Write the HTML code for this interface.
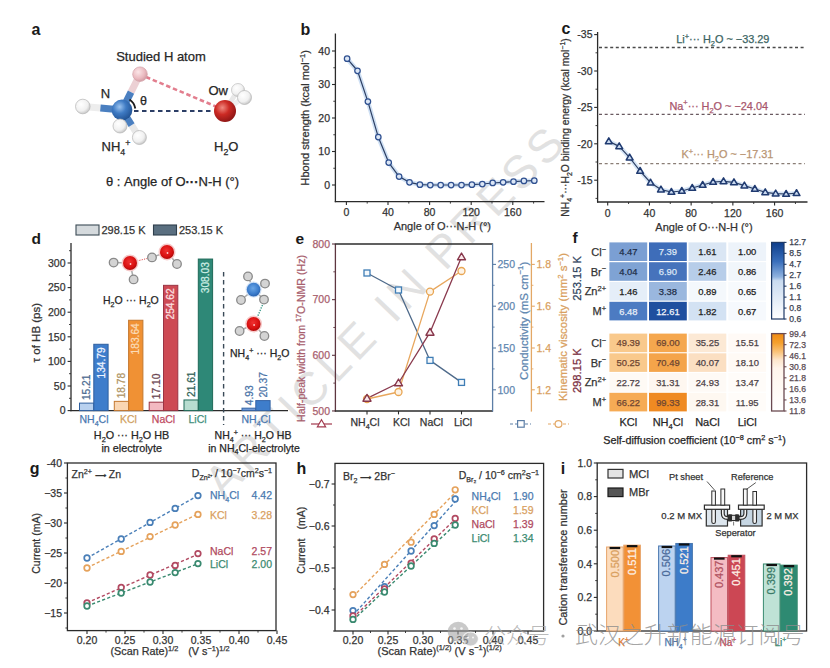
<!DOCTYPE html><html><head><meta charset="utf-8"><title>Figure</title><style>html,body{margin:0;padding:0;background:#fff;}body{width:830px;height:668px;overflow:hidden;}svg{display:block;}</style></head><body><svg width="830" height="668" viewBox="0 0 830 668" font-family='"Liberation Sans", Arial, sans-serif'>
<defs>
<radialGradient id="gB" cx="0.38" cy="0.35" r="0.7"><stop offset="0" stop-color="#9cc4f0"/><stop offset="0.45" stop-color="#3f7bc4"/><stop offset="1" stop-color="#1f4f8f"/></radialGradient>
<radialGradient id="gR" cx="0.38" cy="0.35" r="0.7"><stop offset="0" stop-color="#f08a80"/><stop offset="0.45" stop-color="#cc2a24"/><stop offset="1" stop-color="#8a1414"/></radialGradient>
<radialGradient id="gW" cx="0.38" cy="0.35" r="0.75"><stop offset="0" stop-color="#ffffff"/><stop offset="0.6" stop-color="#f0f0f0"/><stop offset="1" stop-color="#b8b8b8"/></radialGradient>
<radialGradient id="gP" cx="0.38" cy="0.35" r="0.75"><stop offset="0" stop-color="#fbe6e8"/><stop offset="0.6" stop-color="#eab9bf"/><stop offset="1" stop-color="#c8929a"/></radialGradient>
<radialGradient id="gRs" cx="0.45" cy="0.4" r="0.6"><stop offset="0" stop-color="#f03030"/><stop offset="0.7" stop-color="#d81010"/><stop offset="1" stop-color="#b00808"/></radialGradient>
<radialGradient id="gBs" cx="0.45" cy="0.4" r="0.6"><stop offset="0" stop-color="#6aa6e6"/><stop offset="0.7" stop-color="#3a7ccc"/><stop offset="1" stop-color="#2a64b0"/></radialGradient>
<linearGradient id="cbB" x1="0" y1="0" x2="0" y2="1"><stop offset="0" stop-color="#0d3d8a"/><stop offset="0.25" stop-color="#3a6fbb"/><stop offset="0.45" stop-color="#8fb2df"/><stop offset="0.5" stop-color="#c9dbf0"/><stop offset="1" stop-color="#ffffff"/></linearGradient>
<linearGradient id="cbO" x1="0" y1="0" x2="0" y2="1"><stop offset="0" stop-color="#f08a10"/><stop offset="0.12" stop-color="#f5a02e"/><stop offset="0.24" stop-color="#fac47c"/><stop offset="0.34" stop-color="#fde6cc"/><stop offset="0.45" stop-color="#fff5ec"/><stop offset="1" stop-color="#ffffff"/></linearGradient>
</defs>
<rect width="830" height="668" fill="#ffffff"/>
<text x="0" y="0" font-size="46" letter-spacing="4.8" fill="#c4c4c4" fill-opacity="0.5" transform="translate(224.3 500.5) rotate(-46)">ARTICLE IN PRESS</text>
<text x="31.5" y="35" font-size="16" text-anchor="start" fill="#1a1a1a" font-weight="bold" >a</text>
<text x="116.2" y="61.4" font-size="13" text-anchor="start" fill="#262626" stroke="#262626" stroke-width="0.25" >Studied H atom</text>
<line x1="146.00" y1="77.00" x2="216.00" y2="106.50" stroke="#e27e8e" stroke-width="2.6" stroke-dasharray="4.5 2.8"/>
<line x1="134.00" y1="111.00" x2="214.00" y2="111.00" stroke="#2c3e66" stroke-width="1.8" stroke-dasharray="4.5 3.5"/>
<line x1="131.0" y1="92.1" x2="140" y2="74.2" stroke="#ecd0d4" stroke-width="7"/>
<line x1="122" y1="110" x2="131.0" y2="92.1" stroke="#4a7fc0" stroke-width="7"/>
<line x1="100.4" y1="108.1" x2="82.8" y2="106.5" stroke="#ededed" stroke-width="7"/>
<line x1="122" y1="110" x2="100.4" y2="108.1" stroke="#4a7fc0" stroke-width="7"/>
<line x1="131.6" y1="125.1" x2="139.4" y2="137.5" stroke="#e8e8e8" stroke-width="7"/>
<line x1="122" y1="110" x2="131.6" y2="125.1" stroke="#4a7fc0" stroke-width="7"/>
<line x1="225.00" y1="111.00" x2="238.00" y2="90.00" stroke="#e8e8e8" stroke-width="5" />
<circle cx="238.00" cy="90.00" r="6.50" fill="url(#gW)" stroke="#bdbdbd" stroke-width="0.7" />
<circle cx="82.80" cy="106.50" r="7.30" fill="url(#gW)" stroke="#b5b5b5" stroke-width="0.7" />
<circle cx="140.00" cy="74.20" r="7.30" fill="url(#gP)" stroke="#d2a0a8" stroke-width="0.7" />
<circle cx="122.00" cy="110.00" r="10.40" fill="url(#gB)" stroke="none" stroke-width="1" />
<circle cx="120.00" cy="126.00" r="7.00" fill="url(#gW)" stroke="#b5b5b5" stroke-width="0.7" />
<circle cx="139.40" cy="137.50" r="7.00" fill="url(#gW)" stroke="#b5b5b5" stroke-width="0.7" />
<line x1="225.00" y1="111.00" x2="244.00" y2="97.00" stroke="#eeeeee" stroke-width="5" />
<circle cx="225.00" cy="111.00" r="11.00" fill="url(#gR)" stroke="none" stroke-width="1" />
<circle cx="244.50" cy="97.50" r="7.00" fill="url(#gW)" stroke="#b5b5b5" stroke-width="0.7" />
<path d="M129.5 99.5 A 13.5 13.5 0 0 1 135.3 108.5" fill="none" stroke="#1a1a1a" stroke-width="1.8"/>
<text x="100.8" y="97.6" font-size="13" text-anchor="start" fill="#262626" stroke="#262626" stroke-width="0.25" >N</text>
<text x="140" y="104.5" font-size="12.5" text-anchor="start" fill="#262626" stroke="#262626" stroke-width="0.25" >θ</text>
<text x="208.5" y="94.8" font-size="13" text-anchor="start" fill="#262626" stroke="#262626" stroke-width="0.25" >Ow</text>
<text x="101.5" y="151" font-size="13" text-anchor="start" fill="#262626" stroke="#262626" stroke-width="0.25" ><tspan>NH</tspan><tspan dy="3.64" font-size="8.84">4</tspan><tspan dy="-8.58" font-size="8.84">+</tspan></text>
<text x="214" y="151" font-size="13" text-anchor="start" fill="#262626" stroke="#262626" stroke-width="0.25" ><tspan>H</tspan><tspan dy="3.64" font-size="8.84">2</tspan><tspan dy="-3.64">O</tspan></text>
<text x="106" y="185.5" font-size="13" text-anchor="start" fill="#262626" stroke="#262626" stroke-width="0.25" >θ : Angle of O<tspan font-weight="bold">···</tspan>N-H (°)</text>
<text x="300.5" y="34.5" font-size="16" text-anchor="start" fill="#1a1a1a" font-weight="bold" >b</text>
<line x1="335.40" y1="33.50" x2="335.40" y2="202.20" stroke="#2b2b2b" stroke-width="1.3" />
<line x1="334.80" y1="201.60" x2="544.50" y2="201.60" stroke="#2b2b2b" stroke-width="1.3" />
<line x1="332.00" y1="185.00" x2="335.40" y2="185.00" stroke="#2b2b2b" stroke-width="1.1" />
<text x="330" y="188.7" font-size="10.5" text-anchor="end" fill="#333333" stroke="#333333" stroke-width="0.25" >0</text>
<line x1="332.00" y1="151.50" x2="335.40" y2="151.50" stroke="#2b2b2b" stroke-width="1.1" />
<text x="330" y="155.2" font-size="10.5" text-anchor="end" fill="#333333" stroke="#333333" stroke-width="0.25" >10</text>
<line x1="332.00" y1="118.00" x2="335.40" y2="118.00" stroke="#2b2b2b" stroke-width="1.1" />
<text x="330" y="121.7" font-size="10.5" text-anchor="end" fill="#333333" stroke="#333333" stroke-width="0.25" >20</text>
<line x1="332.00" y1="84.50" x2="335.40" y2="84.50" stroke="#2b2b2b" stroke-width="1.1" />
<text x="330" y="88.2" font-size="10.5" text-anchor="end" fill="#333333" stroke="#333333" stroke-width="0.25" >30</text>
<line x1="332.00" y1="51.00" x2="335.40" y2="51.00" stroke="#2b2b2b" stroke-width="1.1" />
<text x="330" y="54.7" font-size="10.5" text-anchor="end" fill="#333333" stroke="#333333" stroke-width="0.25" >40</text>
<line x1="333.30" y1="168.25" x2="335.40" y2="168.25" stroke="#2b2b2b" stroke-width="0.9" />
<line x1="333.30" y1="134.75" x2="335.40" y2="134.75" stroke="#2b2b2b" stroke-width="0.9" />
<line x1="333.30" y1="101.25" x2="335.40" y2="101.25" stroke="#2b2b2b" stroke-width="0.9" />
<line x1="333.30" y1="67.75" x2="335.40" y2="67.75" stroke="#2b2b2b" stroke-width="0.9" />
<line x1="346.40" y1="201.60" x2="346.40" y2="205.00" stroke="#2b2b2b" stroke-width="1.1" />
<text x="346.4" y="216" font-size="10.5" text-anchor="middle" fill="#333333" stroke="#333333" stroke-width="0.25" >0</text>
<line x1="388.00" y1="201.60" x2="388.00" y2="205.00" stroke="#2b2b2b" stroke-width="1.1" />
<text x="388.0" y="216" font-size="10.5" text-anchor="middle" fill="#333333" stroke="#333333" stroke-width="0.25" >40</text>
<line x1="429.60" y1="201.60" x2="429.60" y2="205.00" stroke="#2b2b2b" stroke-width="1.1" />
<text x="429.59999999999997" y="216" font-size="10.5" text-anchor="middle" fill="#333333" stroke="#333333" stroke-width="0.25" >80</text>
<line x1="471.20" y1="201.60" x2="471.20" y2="205.00" stroke="#2b2b2b" stroke-width="1.1" />
<text x="471.2" y="216" font-size="10.5" text-anchor="middle" fill="#333333" stroke="#333333" stroke-width="0.25" >120</text>
<line x1="512.80" y1="201.60" x2="512.80" y2="205.00" stroke="#2b2b2b" stroke-width="1.1" />
<text x="512.8" y="216" font-size="10.5" text-anchor="middle" fill="#333333" stroke="#333333" stroke-width="0.25" >160</text>
<line x1="367.20" y1="201.60" x2="367.20" y2="203.60" stroke="#2b2b2b" stroke-width="0.9" />
<line x1="408.80" y1="201.60" x2="408.80" y2="203.60" stroke="#2b2b2b" stroke-width="0.9" />
<line x1="450.40" y1="201.60" x2="450.40" y2="203.60" stroke="#2b2b2b" stroke-width="0.9" />
<line x1="492.00" y1="201.60" x2="492.00" y2="203.60" stroke="#2b2b2b" stroke-width="0.9" />
<line x1="533.60" y1="201.60" x2="533.60" y2="203.60" stroke="#2b2b2b" stroke-width="0.9" />
<text x="442.3" y="229.7" font-size="11" text-anchor="middle" fill="#333333" stroke="#333333" stroke-width="0.25" >Angle of O···N-H (°)</text>
<text x="309.3" y="117.8" font-size="11.1" text-anchor="middle" fill="#333333" stroke="#333333" stroke-width="0.25" transform="rotate(-90 309.3 117.8)" ><tspan>Hbond strength (kcal mol</tspan><tspan dy="-4.22" font-size="7.55">−1</tspan><tspan dy="4.22">)</tspan></text>
<polyline points="347.10,58.70 357.50,70.76 367.90,101.59 378.30,137.09 388.70,162.56 399.10,176.62 409.50,182.32 419.90,184.66 430.30,185.00 440.70,185.00 451.10,185.00 461.50,185.00 471.90,184.66 482.30,184.00 492.70,182.99 503.10,182.32 513.50,181.65 523.90,180.98 534.30,180.65" fill="none" stroke="#cfe0f4" stroke-width="4.5" stroke-linejoin="round" />
<polyline points="347.10,58.70 357.50,70.76 367.90,101.59 378.30,137.09 388.70,162.56 399.10,176.62 409.50,182.32 419.90,184.66 430.30,185.00 440.70,185.00 451.10,185.00 461.50,185.00 471.90,184.66 482.30,184.00 492.70,182.99 503.10,182.32 513.50,181.65 523.90,180.98 534.30,180.65" fill="none" stroke="#2d3f63" stroke-width="1.2" stroke-linejoin="round" />
<circle cx="347.10" cy="58.70" r="2.75" fill="#dce7f6" stroke="#2f5090" stroke-width="1.25" />
<circle cx="357.50" cy="70.76" r="2.75" fill="#dce7f6" stroke="#2f5090" stroke-width="1.25" />
<circle cx="367.90" cy="101.59" r="2.75" fill="#dce7f6" stroke="#2f5090" stroke-width="1.25" />
<circle cx="378.30" cy="137.09" r="2.75" fill="#dce7f6" stroke="#2f5090" stroke-width="1.25" />
<circle cx="388.70" cy="162.56" r="2.75" fill="#dce7f6" stroke="#2f5090" stroke-width="1.25" />
<circle cx="399.10" cy="176.62" r="2.75" fill="#dce7f6" stroke="#2f5090" stroke-width="1.25" />
<circle cx="409.50" cy="182.32" r="2.75" fill="#dce7f6" stroke="#2f5090" stroke-width="1.25" />
<circle cx="419.90" cy="184.66" r="2.75" fill="#dce7f6" stroke="#2f5090" stroke-width="1.25" />
<circle cx="430.30" cy="185.00" r="2.75" fill="#dce7f6" stroke="#2f5090" stroke-width="1.25" />
<circle cx="440.70" cy="185.00" r="2.75" fill="#dce7f6" stroke="#2f5090" stroke-width="1.25" />
<circle cx="451.10" cy="185.00" r="2.75" fill="#dce7f6" stroke="#2f5090" stroke-width="1.25" />
<circle cx="461.50" cy="185.00" r="2.75" fill="#dce7f6" stroke="#2f5090" stroke-width="1.25" />
<circle cx="471.90" cy="184.66" r="2.75" fill="#dce7f6" stroke="#2f5090" stroke-width="1.25" />
<circle cx="482.30" cy="184.00" r="2.75" fill="#dce7f6" stroke="#2f5090" stroke-width="1.25" />
<circle cx="492.70" cy="182.99" r="2.75" fill="#dce7f6" stroke="#2f5090" stroke-width="1.25" />
<circle cx="503.10" cy="182.32" r="2.75" fill="#dce7f6" stroke="#2f5090" stroke-width="1.25" />
<circle cx="513.50" cy="181.65" r="2.75" fill="#dce7f6" stroke="#2f5090" stroke-width="1.25" />
<circle cx="523.90" cy="180.98" r="2.75" fill="#dce7f6" stroke="#2f5090" stroke-width="1.25" />
<circle cx="534.30" cy="180.65" r="2.75" fill="#dce7f6" stroke="#2f5090" stroke-width="1.25" />
<text x="561.5" y="34.3" font-size="16" text-anchor="start" fill="#1a1a1a" font-weight="bold" >c</text>
<line x1="597.60" y1="32.00" x2="597.60" y2="202.60" stroke="#2b2b2b" stroke-width="1.3" />
<line x1="597.00" y1="202.00" x2="807.50" y2="202.00" stroke="#2b2b2b" stroke-width="1.3" />
<line x1="594.20" y1="34.60" x2="597.60" y2="34.60" stroke="#2b2b2b" stroke-width="1.1" />
<text x="592.5" y="38.300000000000004" font-size="10.5" text-anchor="end" fill="#333333" stroke="#333333" stroke-width="0.25" >-35</text>
<line x1="594.20" y1="71.00" x2="597.60" y2="71.00" stroke="#2b2b2b" stroke-width="1.1" />
<text x="592.5" y="74.7" font-size="10.5" text-anchor="end" fill="#333333" stroke="#333333" stroke-width="0.25" >-30</text>
<line x1="594.20" y1="107.40" x2="597.60" y2="107.40" stroke="#2b2b2b" stroke-width="1.1" />
<text x="592.5" y="111.10000000000001" font-size="10.5" text-anchor="end" fill="#333333" stroke="#333333" stroke-width="0.25" >-25</text>
<line x1="594.20" y1="143.80" x2="597.60" y2="143.80" stroke="#2b2b2b" stroke-width="1.1" />
<text x="592.5" y="147.5" font-size="10.5" text-anchor="end" fill="#333333" stroke="#333333" stroke-width="0.25" >-20</text>
<line x1="594.20" y1="180.20" x2="597.60" y2="180.20" stroke="#2b2b2b" stroke-width="1.1" />
<text x="592.5" y="183.89999999999998" font-size="10.5" text-anchor="end" fill="#333333" stroke="#333333" stroke-width="0.25" >-15</text>
<line x1="595.50" y1="52.80" x2="597.60" y2="52.80" stroke="#2b2b2b" stroke-width="0.9" />
<line x1="595.50" y1="89.20" x2="597.60" y2="89.20" stroke="#2b2b2b" stroke-width="0.9" />
<line x1="595.50" y1="125.60" x2="597.60" y2="125.60" stroke="#2b2b2b" stroke-width="0.9" />
<line x1="595.50" y1="162.00" x2="597.60" y2="162.00" stroke="#2b2b2b" stroke-width="0.9" />
<line x1="595.50" y1="198.40" x2="597.60" y2="198.40" stroke="#2b2b2b" stroke-width="0.9" />
<line x1="607.70" y1="202.00" x2="607.70" y2="205.40" stroke="#2b2b2b" stroke-width="1.1" />
<text x="607.7" y="216.5" font-size="10.5" text-anchor="middle" fill="#333333" stroke="#333333" stroke-width="0.25" >0</text>
<line x1="649.42" y1="202.00" x2="649.42" y2="205.40" stroke="#2b2b2b" stroke-width="1.1" />
<text x="649.4200000000001" y="216.5" font-size="10.5" text-anchor="middle" fill="#333333" stroke="#333333" stroke-width="0.25" >40</text>
<line x1="691.14" y1="202.00" x2="691.14" y2="205.40" stroke="#2b2b2b" stroke-width="1.1" />
<text x="691.1400000000001" y="216.5" font-size="10.5" text-anchor="middle" fill="#333333" stroke="#333333" stroke-width="0.25" >80</text>
<line x1="732.86" y1="202.00" x2="732.86" y2="205.40" stroke="#2b2b2b" stroke-width="1.1" />
<text x="732.86" y="216.5" font-size="10.5" text-anchor="middle" fill="#333333" stroke="#333333" stroke-width="0.25" >120</text>
<line x1="774.58" y1="202.00" x2="774.58" y2="205.40" stroke="#2b2b2b" stroke-width="1.1" />
<text x="774.58" y="216.5" font-size="10.5" text-anchor="middle" fill="#333333" stroke="#333333" stroke-width="0.25" >160</text>
<line x1="628.56" y1="202.00" x2="628.56" y2="204.00" stroke="#2b2b2b" stroke-width="0.9" />
<line x1="670.28" y1="202.00" x2="670.28" y2="204.00" stroke="#2b2b2b" stroke-width="0.9" />
<line x1="712.00" y1="202.00" x2="712.00" y2="204.00" stroke="#2b2b2b" stroke-width="0.9" />
<line x1="753.72" y1="202.00" x2="753.72" y2="204.00" stroke="#2b2b2b" stroke-width="0.9" />
<line x1="795.44" y1="202.00" x2="795.44" y2="204.00" stroke="#2b2b2b" stroke-width="0.9" />
<text x="704" y="230.5" font-size="11" text-anchor="middle" fill="#333333" stroke="#333333" stroke-width="0.25" >Angle of O···N-H (°)</text>
<line x1="599.00" y1="47.40" x2="805.00" y2="47.40" stroke="#4a4a4a" stroke-width="1.5" stroke-dasharray="3 2.6"/>
<line x1="599.00" y1="114.40" x2="805.00" y2="114.40" stroke="#6a5a60" stroke-width="1.4" stroke-dasharray="3 2.7"/>
<line x1="599.00" y1="163.60" x2="805.00" y2="163.60" stroke="#8a7e76" stroke-width="1.4" stroke-dasharray="3 2.7"/>
<text x="676.2" y="43" font-size="10.9" text-anchor="start" fill="#3b6462" stroke="#3b6462" stroke-width="0.25" ><tspan>Li</tspan><tspan dy="-4.14" font-size="7.41">+</tspan><tspan dy="4.14">··· H</tspan><tspan dy="3.05" font-size="7.41">2</tspan><tspan dy="-3.05">O ~ −33.29</tspan></text>
<text x="669.4" y="109.5" font-size="10.9" text-anchor="start" fill="#a8566c" stroke="#a8566c" stroke-width="0.25" ><tspan>Na</tspan><tspan dy="-4.14" font-size="7.41">+</tspan><tspan dy="4.14">··· H</tspan><tspan dy="3.05" font-size="7.41">2</tspan><tspan dy="-3.05">O ~ −24.04</tspan></text>
<text x="681.4" y="158.2" font-size="10.9" text-anchor="start" fill="#b89472" stroke="#b89472" stroke-width="0.25" ><tspan>K</tspan><tspan dy="-4.14" font-size="7.41">+</tspan><tspan dy="4.14">··· H</tspan><tspan dy="3.05" font-size="7.41">2</tspan><tspan dy="-3.05">O ~ −17.31</tspan></text>
<text x="569.4" y="127.5" font-size="10.3" text-anchor="middle" fill="#333333" stroke="#333333" stroke-width="0.25" transform="rotate(-90 569.4 127.5)" ><tspan>NH</tspan><tspan dy="2.88" font-size="7.00">4</tspan><tspan dy="-6.80" font-size="7.00">+</tspan><tspan dy="3.91">···H</tspan><tspan dy="2.88" font-size="7.00">2</tspan><tspan dy="-2.88">O binding energy (kcal mol</tspan><tspan dy="-3.91" font-size="7.00">−1</tspan><tspan dy="3.91">)</tspan></text>
<polyline points="608.80,141.40 619.23,146.40 629.66,157.60 640.09,171.00 650.52,182.70 660.95,189.60 671.38,192.00 681.81,191.00 692.24,188.00 702.67,185.00 713.10,182.00 723.53,181.40 733.96,182.40 744.39,185.60 754.82,189.00 765.25,192.40 775.68,193.60 786.11,194.00 796.54,193.20" fill="none" stroke="#d6e5f6" stroke-width="4.5" stroke-linejoin="round" />
<polyline points="608.80,141.40 619.23,146.40 629.66,157.60 640.09,171.00 650.52,182.70 660.95,189.60 671.38,192.00 681.81,191.00 692.24,188.00 702.67,185.00 713.10,182.00 723.53,181.40 733.96,182.40 744.39,185.60 754.82,189.00 765.25,192.40 775.68,193.60 786.11,194.00 796.54,193.20" fill="none" stroke="#2d3f63" stroke-width="1.2" stroke-linejoin="round" />
<path d="M608.80 137.90 L612.20 143.72 L605.40 143.72 Z" fill="#c9d9ef" stroke="#1f3a70" stroke-width="1.5" stroke-linejoin="round"/>
<path d="M619.23 142.90 L622.63 148.72 L615.83 148.72 Z" fill="#c9d9ef" stroke="#1f3a70" stroke-width="1.5" stroke-linejoin="round"/>
<path d="M629.66 154.10 L633.06 159.92 L626.26 159.92 Z" fill="#c9d9ef" stroke="#1f3a70" stroke-width="1.5" stroke-linejoin="round"/>
<path d="M640.09 167.50 L643.49 173.32 L636.69 173.32 Z" fill="#c9d9ef" stroke="#1f3a70" stroke-width="1.5" stroke-linejoin="round"/>
<path d="M650.52 179.20 L653.92 185.02 L647.12 185.02 Z" fill="#c9d9ef" stroke="#1f3a70" stroke-width="1.5" stroke-linejoin="round"/>
<path d="M660.95 186.10 L664.35 191.92 L657.55 191.92 Z" fill="#c9d9ef" stroke="#1f3a70" stroke-width="1.5" stroke-linejoin="round"/>
<path d="M671.38 188.50 L674.78 194.32 L667.98 194.32 Z" fill="#c9d9ef" stroke="#1f3a70" stroke-width="1.5" stroke-linejoin="round"/>
<path d="M681.81 187.50 L685.21 193.32 L678.41 193.32 Z" fill="#c9d9ef" stroke="#1f3a70" stroke-width="1.5" stroke-linejoin="round"/>
<path d="M692.24 184.50 L695.64 190.32 L688.84 190.32 Z" fill="#c9d9ef" stroke="#1f3a70" stroke-width="1.5" stroke-linejoin="round"/>
<path d="M702.67 181.50 L706.07 187.32 L699.27 187.32 Z" fill="#c9d9ef" stroke="#1f3a70" stroke-width="1.5" stroke-linejoin="round"/>
<path d="M713.10 178.50 L716.50 184.32 L709.70 184.32 Z" fill="#c9d9ef" stroke="#1f3a70" stroke-width="1.5" stroke-linejoin="round"/>
<path d="M723.53 177.90 L726.93 183.72 L720.13 183.72 Z" fill="#c9d9ef" stroke="#1f3a70" stroke-width="1.5" stroke-linejoin="round"/>
<path d="M733.96 178.90 L737.36 184.72 L730.56 184.72 Z" fill="#c9d9ef" stroke="#1f3a70" stroke-width="1.5" stroke-linejoin="round"/>
<path d="M744.39 182.10 L747.79 187.92 L740.99 187.92 Z" fill="#c9d9ef" stroke="#1f3a70" stroke-width="1.5" stroke-linejoin="round"/>
<path d="M754.82 185.50 L758.22 191.32 L751.42 191.32 Z" fill="#c9d9ef" stroke="#1f3a70" stroke-width="1.5" stroke-linejoin="round"/>
<path d="M765.25 188.90 L768.65 194.72 L761.85 194.72 Z" fill="#c9d9ef" stroke="#1f3a70" stroke-width="1.5" stroke-linejoin="round"/>
<path d="M775.68 190.10 L779.08 195.92 L772.28 195.92 Z" fill="#c9d9ef" stroke="#1f3a70" stroke-width="1.5" stroke-linejoin="round"/>
<path d="M786.11 190.50 L789.51 196.32 L782.71 196.32 Z" fill="#c9d9ef" stroke="#1f3a70" stroke-width="1.5" stroke-linejoin="round"/>
<path d="M796.54 189.70 L799.94 195.52 L793.14 195.52 Z" fill="#c9d9ef" stroke="#1f3a70" stroke-width="1.5" stroke-linejoin="round"/>
<text x="31.5" y="244" font-size="15.5" text-anchor="start" fill="#1a1a1a" font-weight="bold" >d</text>
<rect x="76.00" y="225.00" width="23.00" height="10.00" fill="#d5dadd" stroke="#3b4b55" stroke-width="1.1" />
<text x="101.5" y="234.2" font-size="11" text-anchor="start" fill="#333333" stroke="#333333" stroke-width="0.25" >298.15 K</text>
<rect x="153.50" y="225.00" width="23.00" height="10.00" fill="#5a6f80" stroke="#2f3f4c" stroke-width="1.1" />
<text x="179" y="234.2" font-size="11" text-anchor="start" fill="#333333" stroke="#333333" stroke-width="0.25" >253.15 K</text>
<line x1="71.00" y1="243.00" x2="71.00" y2="411.20" stroke="#2b2b2b" stroke-width="1.3" />
<line x1="70.40" y1="410.60" x2="288.00" y2="410.60" stroke="#2b2b2b" stroke-width="1.3" />
<line x1="67.60" y1="410.60" x2="71.00" y2="410.60" stroke="#2b2b2b" stroke-width="1.1" />
<text x="65.5" y="414.3" font-size="10.5" text-anchor="end" fill="#333333" stroke="#333333" stroke-width="0.25" >0</text>
<line x1="67.60" y1="386.00" x2="71.00" y2="386.00" stroke="#2b2b2b" stroke-width="1.1" />
<text x="65.5" y="389.7" font-size="10.5" text-anchor="end" fill="#333333" stroke="#333333" stroke-width="0.25" >50</text>
<line x1="67.60" y1="361.40" x2="71.00" y2="361.40" stroke="#2b2b2b" stroke-width="1.1" />
<text x="65.5" y="365.1" font-size="10.5" text-anchor="end" fill="#333333" stroke="#333333" stroke-width="0.25" >100</text>
<line x1="67.60" y1="336.80" x2="71.00" y2="336.80" stroke="#2b2b2b" stroke-width="1.1" />
<text x="65.5" y="340.5" font-size="10.5" text-anchor="end" fill="#333333" stroke="#333333" stroke-width="0.25" >150</text>
<line x1="67.60" y1="312.20" x2="71.00" y2="312.20" stroke="#2b2b2b" stroke-width="1.1" />
<text x="65.5" y="315.90000000000003" font-size="10.5" text-anchor="end" fill="#333333" stroke="#333333" stroke-width="0.25" >200</text>
<line x1="67.60" y1="287.60" x2="71.00" y2="287.60" stroke="#2b2b2b" stroke-width="1.1" />
<text x="65.5" y="291.3" font-size="10.5" text-anchor="end" fill="#333333" stroke="#333333" stroke-width="0.25" >250</text>
<line x1="67.60" y1="263.00" x2="71.00" y2="263.00" stroke="#2b2b2b" stroke-width="1.1" />
<text x="65.5" y="266.7" font-size="10.5" text-anchor="end" fill="#333333" stroke="#333333" stroke-width="0.25" >300</text>
<line x1="69.00" y1="398.30" x2="71.00" y2="398.30" stroke="#2b2b2b" stroke-width="0.9" />
<line x1="69.00" y1="373.70" x2="71.00" y2="373.70" stroke="#2b2b2b" stroke-width="0.9" />
<line x1="69.00" y1="349.10" x2="71.00" y2="349.10" stroke="#2b2b2b" stroke-width="0.9" />
<line x1="69.00" y1="324.50" x2="71.00" y2="324.50" stroke="#2b2b2b" stroke-width="0.9" />
<line x1="69.00" y1="299.90" x2="71.00" y2="299.90" stroke="#2b2b2b" stroke-width="0.9" />
<line x1="69.00" y1="275.30" x2="71.00" y2="275.30" stroke="#2b2b2b" stroke-width="0.9" />
<line x1="69.00" y1="250.70" x2="71.00" y2="250.70" stroke="#2b2b2b" stroke-width="0.9" />
<text x="40.5" y="332.7" font-size="11.5" text-anchor="middle" fill="#333333" stroke="#333333" stroke-width="0.25" transform="rotate(-90 40.5 332.7)" >τ of HB (ps)</text>
<rect x="79.50" y="403.12" width="14.30" height="7.48" fill="#b9d1ef" stroke="#2f5f9f" stroke-width="1.0" />
<rect x="93.80" y="344.28" width="14.30" height="66.32" fill="#3e7dcb" stroke="#2f5f9f" stroke-width="1.0" />
<text x="90.25" y="400.11668000000003" font-size="10.2" text-anchor="start" fill="#4a6a90" stroke="#4a6a90" stroke-width="0.25" transform="rotate(-90 90.25 400.11668000000003)" >15.21</text>
<text x="104.55" y="347.28332" font-size="10.2" text-anchor="end" fill="#eef4ff" stroke="#eef4ff" stroke-width="0.25" transform="rotate(-90 104.55 347.28332)" >134.79</text>
<rect x="114.30" y="401.36" width="14.30" height="9.24" fill="#fad6b2" stroke="#c47830" stroke-width="1.0" />
<rect x="128.60" y="320.25" width="14.30" height="90.35" fill="#f09134" stroke="#c47830" stroke-width="1.0" />
<text x="125.05" y="398.36024000000003" font-size="10.2" text-anchor="start" fill="#b09464" stroke="#b09464" stroke-width="0.25" transform="rotate(-90 125.05 398.36024000000003)" >18.78</text>
<text x="139.35" y="323.24912000000006" font-size="10.2" text-anchor="end" fill="#fbdcb8" stroke="#fbdcb8" stroke-width="0.25" transform="rotate(-90 139.35 323.24912000000006)" >183.64</text>
<rect x="149.20" y="402.19" width="14.30" height="8.41" fill="#f3b9c1" stroke="#9a3444" stroke-width="1.0" />
<rect x="163.50" y="285.33" width="14.30" height="125.27" fill="#cd4a54" stroke="#9a3444" stroke-width="1.0" />
<text x="159.95" y="399.1868" font-size="10.2" text-anchor="start" fill="#6a4450" stroke="#6a4450" stroke-width="0.25" transform="rotate(-90 159.95 399.1868)" >17.10</text>
<text x="174.25" y="288.32696000000004" font-size="10.2" text-anchor="end" fill="#fbe0e0" stroke="#fbe0e0" stroke-width="0.25" transform="rotate(-90 174.25 288.32696000000004)" >254.62</text>
<rect x="184.00" y="399.97" width="14.30" height="10.63" fill="#b7ddd0" stroke="#1f6a58" stroke-width="1.0" />
<rect x="198.30" y="259.05" width="14.30" height="151.55" fill="#2e8877" stroke="#1f6a58" stroke-width="1.0" />
<text x="194.75" y="396.96788000000004" font-size="10.2" text-anchor="start" fill="#2f5f56" stroke="#2f5f56" stroke-width="0.25" transform="rotate(-90 194.75 396.96788000000004)" >21.61</text>
<text x="209.05" y="262.04924000000005" font-size="10.2" text-anchor="end" fill="#cdeee4" stroke="#cdeee4" stroke-width="0.25" transform="rotate(-90 209.05 262.04924000000005)" >308.03</text>
<rect x="242.00" y="408.17" width="13.80" height="2.43" fill="#6f98d6" stroke="#3564a6" stroke-width="1.0" />
<rect x="255.80" y="400.58" width="14.30" height="10.02" fill="#3e7dcb" stroke="#3564a6" stroke-width="1.0" />
<text x="252.55" y="405.17444" font-size="10.2" text-anchor="start" fill="#4b74a8" stroke="#4b74a8" stroke-width="0.25" transform="rotate(-90 252.55 405.17444)" >4.93</text>
<text x="266.65" y="397.57796" font-size="10.2" text-anchor="start" fill="#4b74a8" stroke="#4b74a8" stroke-width="0.25" transform="rotate(-90 266.65 397.57796)" >20.37</text>
<line x1="223.60" y1="272.00" x2="223.60" y2="425.00" stroke="#3a4a58" stroke-width="1.4" stroke-dasharray="4.5 3.5"/>
<text x="94" y="423" font-size="10.5" text-anchor="middle" fill="#4a78b0" stroke="#4a78b0" stroke-width="0.25" ><tspan>NH</tspan><tspan dy="2.94" font-size="7.14">4</tspan><tspan dy="-2.94">Cl</tspan></text>
<text x="128.5" y="423" font-size="10.5" text-anchor="middle" fill="#d0a060" stroke="#d0a060" stroke-width="0.25" >KCl</text>
<text x="163.5" y="423" font-size="10.5" text-anchor="middle" fill="#c04a62" stroke="#c04a62" stroke-width="0.25" >NaCl</text>
<text x="197.5" y="423" font-size="10.5" text-anchor="middle" fill="#3f8f7c" stroke="#3f8f7c" stroke-width="0.25" >LiCl</text>
<text x="256" y="423" font-size="10.5" text-anchor="middle" fill="#4a78b0" stroke="#4a78b0" stroke-width="0.25" ><tspan>NH</tspan><tspan dy="2.94" font-size="7.14">4</tspan><tspan dy="-2.94">Cl</tspan></text>
<text x="131.5" y="439" font-size="10.8" text-anchor="middle" fill="#262626" stroke="#262626" stroke-width="0.25" ><tspan>H</tspan><tspan dy="3.02" font-size="7.34">2</tspan><tspan dy="-3.02">O ··· H</tspan><tspan dy="3.02" font-size="7.34">2</tspan><tspan dy="-3.02">O HB</tspan></text>
<text x="131.7" y="451.5" font-size="10.8" text-anchor="middle" fill="#262626" stroke="#262626" stroke-width="0.25" >in electrolyte</text>
<text x="253" y="439" font-size="10.5" text-anchor="middle" fill="#262626" stroke="#262626" stroke-width="0.25" ><tspan>NH</tspan><tspan dy="2.94" font-size="7.14">4</tspan><tspan dy="-6.93" font-size="7.14">+</tspan><tspan dy="3.99"> ··· H</tspan><tspan dy="2.94" font-size="7.14">2</tspan><tspan dy="-2.94">O HB</tspan></text>
<text x="254" y="451.5" font-size="10.5" text-anchor="middle" fill="#262626" stroke="#262626" stroke-width="0.25" ><tspan>in NH</tspan><tspan dy="2.94" font-size="7.14">4</tspan><tspan dy="-2.94">Cl-electrolyte</tspan></text>
<line x1="130.00" y1="263.00" x2="113.60" y2="262.60" stroke="#aaaaaa" stroke-width="1.5" />
<line x1="130.00" y1="263.00" x2="133.60" y2="279.40" stroke="#aaaaaa" stroke-width="1.5" />
<line x1="167.00" y1="252.00" x2="177.00" y2="264.00" stroke="#aaaaaa" stroke-width="1.5" />
<line x1="167.00" y1="252.00" x2="152.00" y2="257.40" stroke="#aaaaaa" stroke-width="1.5" />
<line x1="137.00" y1="261.00" x2="149.00" y2="258.00" stroke="#e05050" stroke-width="1.0" stroke-dasharray="1.2 1.2"/>
<circle cx="113.60" cy="262.60" r="4.30" fill="#d4d4d4" stroke="#8a8a8a" stroke-width="1.3" />
<circle cx="133.60" cy="279.40" r="4.30" fill="#d4d4d4" stroke="#8a8a8a" stroke-width="1.3" />
<circle cx="152.00" cy="257.40" r="4.30" fill="#d4d4d4" stroke="#8a8a8a" stroke-width="1.3" />
<circle cx="177.00" cy="264.00" r="4.30" fill="#d4d4d4" stroke="#8a8a8a" stroke-width="1.3" />
<circle cx="130.00" cy="263.00" r="8.50" fill="#f6c9c9" stroke="none" stroke-width="1" />
<circle cx="130.00" cy="263.00" r="7.00" fill="url(#gRs)" stroke="none" stroke-width="1" />
<circle cx="130.50" cy="264.00" r="0.90" fill="#ffcccc" stroke="none" stroke-width="1" />
<circle cx="167.00" cy="252.00" r="8.50" fill="#f6c9c9" stroke="none" stroke-width="1" />
<circle cx="167.00" cy="252.00" r="7.00" fill="url(#gRs)" stroke="none" stroke-width="1" />
<circle cx="167.50" cy="253.00" r="0.90" fill="#ffcccc" stroke="none" stroke-width="1" />
<text x="103" y="304" font-size="10.5" text-anchor="start" fill="#262626" stroke="#262626" stroke-width="0.25" ><tspan>H</tspan><tspan dy="2.94" font-size="7.14">2</tspan><tspan dy="-2.94">O ··· H</tspan><tspan dy="2.94" font-size="7.14">2</tspan><tspan dy="-2.94">O</tspan></text>
<line x1="253.60" y1="289.60" x2="248.00" y2="276.40" stroke="#aaaaaa" stroke-width="1.5" />
<line x1="253.60" y1="289.60" x2="265.00" y2="283.60" stroke="#aaaaaa" stroke-width="1.5" />
<line x1="253.60" y1="289.60" x2="241.00" y2="300.00" stroke="#aaaaaa" stroke-width="1.5" />
<line x1="253.60" y1="289.60" x2="264.00" y2="299.60" stroke="#aaaaaa" stroke-width="1.5" />
<line x1="262.50" y1="305.00" x2="257.00" y2="318.00" stroke="#3a9a8a" stroke-width="1.4" stroke-dasharray="1.3 1.3"/>
<circle cx="248.00" cy="276.40" r="4.30" fill="#d4d4d4" stroke="#8a8a8a" stroke-width="1.3" />
<circle cx="265.00" cy="283.60" r="4.30" fill="#d4d4d4" stroke="#8a8a8a" stroke-width="1.3" />
<circle cx="241.00" cy="300.00" r="4.30" fill="#d4d4d4" stroke="#8a8a8a" stroke-width="1.3" />
<circle cx="264.00" cy="299.60" r="4.30" fill="#d4d4d4" stroke="#8a8a8a" stroke-width="1.3" />
<circle cx="253.60" cy="289.60" r="8.00" fill="#cfe0f5" stroke="none" stroke-width="1" />
<circle cx="253.60" cy="289.60" r="6.80" fill="url(#gBs)" stroke="none" stroke-width="1" />
<line x1="253.60" y1="324.00" x2="239.60" y2="331.00" stroke="#aaaaaa" stroke-width="1.5" />
<line x1="253.60" y1="324.00" x2="264.40" y2="336.00" stroke="#aaaaaa" stroke-width="1.5" />
<circle cx="239.60" cy="331.00" r="4.30" fill="#d4d4d4" stroke="#8a8a8a" stroke-width="1.3" />
<circle cx="264.40" cy="336.00" r="4.30" fill="#d4d4d4" stroke="#8a8a8a" stroke-width="1.3" />
<circle cx="253.60" cy="324.00" r="8.50" fill="#f6c9c9" stroke="none" stroke-width="1" />
<circle cx="253.60" cy="324.00" r="7.00" fill="url(#gRs)" stroke="none" stroke-width="1" />
<circle cx="254.10" cy="325.00" r="0.90" fill="#ffcccc" stroke="none" stroke-width="1" />
<text x="230" y="357" font-size="10.5" text-anchor="start" fill="#262626" stroke="#262626" stroke-width="0.25" ><tspan>NH</tspan><tspan dy="2.94" font-size="7.14">4</tspan><tspan dy="-6.93" font-size="7.14">+</tspan><tspan dy="3.99"> ··· H</tspan><tspan dy="2.94" font-size="7.14">2</tspan><tspan dy="-2.94">O</tspan></text>
<text x="295.5" y="244" font-size="15.5" text-anchor="start" fill="#1a1a1a" font-weight="bold" >e</text>
<line x1="335.40" y1="244.00" x2="335.40" y2="411.60" stroke="#5e3640" stroke-width="1.3" />
<line x1="334.80" y1="244.00" x2="493.00" y2="244.00" stroke="#2b2b2b" stroke-width="1.3" />
<line x1="334.80" y1="411.00" x2="493.00" y2="411.00" stroke="#2b2b2b" stroke-width="1.3" />
<line x1="492.60" y1="243.40" x2="492.60" y2="411.60" stroke="#5c7ea6" stroke-width="1.3" />
<line x1="531.40" y1="243.00" x2="531.40" y2="411.60" stroke="#e3a866" stroke-width="1.3" />
<line x1="332.00" y1="410.95" x2="335.40" y2="410.95" stroke="#5e3640" stroke-width="1.1" />
<text x="330" y="414.65" font-size="10.5" text-anchor="end" fill="#a8606e" stroke="#a8606e" stroke-width="0.25" >500</text>
<line x1="332.00" y1="355.30" x2="335.40" y2="355.30" stroke="#5e3640" stroke-width="1.1" />
<text x="330" y="359.0" font-size="10.5" text-anchor="end" fill="#a8606e" stroke="#a8606e" stroke-width="0.25" >600</text>
<line x1="332.00" y1="299.65" x2="335.40" y2="299.65" stroke="#5e3640" stroke-width="1.1" />
<text x="330" y="303.34999999999997" font-size="10.5" text-anchor="end" fill="#a8606e" stroke="#a8606e" stroke-width="0.25" >700</text>
<line x1="332.00" y1="244.00" x2="335.40" y2="244.00" stroke="#5e3640" stroke-width="1.1" />
<text x="330" y="247.7" font-size="10.5" text-anchor="end" fill="#a8606e" stroke="#a8606e" stroke-width="0.25" >800</text>
<line x1="333.30" y1="383.12" x2="335.40" y2="383.12" stroke="#5e3640" stroke-width="0.9" />
<line x1="333.30" y1="327.48" x2="335.40" y2="327.48" stroke="#5e3640" stroke-width="0.9" />
<line x1="333.30" y1="271.82" x2="335.40" y2="271.82" stroke="#5e3640" stroke-width="0.9" />
<line x1="492.60" y1="389.80" x2="496.00" y2="389.80" stroke="#5c7ea6" stroke-width="1.1" />
<text x="497.5" y="393.49999999999994" font-size="10.5" text-anchor="start" fill="#5f87b0" stroke="#5f87b0" stroke-width="0.25" >100</text>
<line x1="492.60" y1="348.00" x2="496.00" y2="348.00" stroke="#5c7ea6" stroke-width="1.1" />
<text x="497.5" y="351.7" font-size="10.5" text-anchor="start" fill="#5f87b0" stroke="#5f87b0" stroke-width="0.25" >150</text>
<line x1="492.60" y1="306.20" x2="496.00" y2="306.20" stroke="#5c7ea6" stroke-width="1.1" />
<text x="497.5" y="309.9" font-size="10.5" text-anchor="start" fill="#5f87b0" stroke="#5f87b0" stroke-width="0.25" >200</text>
<line x1="492.60" y1="264.40" x2="496.00" y2="264.40" stroke="#5c7ea6" stroke-width="1.1" />
<text x="497.5" y="268.09999999999997" font-size="10.5" text-anchor="start" fill="#5f87b0" stroke="#5f87b0" stroke-width="0.25" >250</text>
<line x1="492.60" y1="368.90" x2="494.60" y2="368.90" stroke="#5c7ea6" stroke-width="0.9" />
<line x1="492.60" y1="327.10" x2="494.60" y2="327.10" stroke="#5c7ea6" stroke-width="0.9" />
<line x1="492.60" y1="285.30" x2="494.60" y2="285.30" stroke="#5c7ea6" stroke-width="0.9" />
<line x1="531.40" y1="389.80" x2="534.80" y2="389.80" stroke="#e3a866" stroke-width="1.1" />
<text x="536.5" y="393.5" font-size="10.5" text-anchor="start" fill="#d9a060" stroke="#d9a060" stroke-width="0.25" >1.2</text>
<line x1="531.40" y1="348.00" x2="534.80" y2="348.00" stroke="#e3a866" stroke-width="1.1" />
<text x="536.5" y="351.7" font-size="10.5" text-anchor="start" fill="#d9a060" stroke="#d9a060" stroke-width="0.25" >1.4</text>
<line x1="531.40" y1="306.20" x2="534.80" y2="306.20" stroke="#e3a866" stroke-width="1.1" />
<text x="536.5" y="309.9" font-size="10.5" text-anchor="start" fill="#d9a060" stroke="#d9a060" stroke-width="0.25" >1.6</text>
<line x1="531.40" y1="264.40" x2="534.80" y2="264.40" stroke="#e3a866" stroke-width="1.1" />
<text x="536.5" y="268.09999999999997" font-size="10.5" text-anchor="start" fill="#d9a060" stroke="#d9a060" stroke-width="0.25" >1.8</text>
<line x1="531.40" y1="368.90" x2="533.40" y2="368.90" stroke="#e3a866" stroke-width="0.9" />
<line x1="531.40" y1="327.10" x2="533.40" y2="327.10" stroke="#e3a866" stroke-width="0.9" />
<line x1="531.40" y1="285.30" x2="533.40" y2="285.30" stroke="#e3a866" stroke-width="0.9" />
<line x1="367.00" y1="411.00" x2="367.00" y2="414.40" stroke="#2b2b2b" stroke-width="1.1" />
<line x1="398.50" y1="411.00" x2="398.50" y2="414.40" stroke="#2b2b2b" stroke-width="1.1" />
<line x1="430.00" y1="411.00" x2="430.00" y2="414.40" stroke="#2b2b2b" stroke-width="1.1" />
<line x1="461.50" y1="411.00" x2="461.50" y2="414.40" stroke="#2b2b2b" stroke-width="1.1" />
<text x="365" y="426" font-size="10.5" text-anchor="middle" fill="#333333" stroke="#333333" stroke-width="0.25" ><tspan>NH</tspan><tspan dy="2.94" font-size="7.14">4</tspan><tspan dy="-2.94">Cl</tspan></text>
<text x="401.5" y="426" font-size="10.5" text-anchor="middle" fill="#333333" stroke="#333333" stroke-width="0.25" >KCl</text>
<text x="431.5" y="426" font-size="10.5" text-anchor="middle" fill="#333333" stroke="#333333" stroke-width="0.25" >NaCl</text>
<text x="463" y="426" font-size="10.5" text-anchor="middle" fill="#333333" stroke="#333333" stroke-width="0.25" >LiCl</text>
<text x="304.8" y="338.5" font-size="10.6" text-anchor="middle" fill="#a8606e" stroke="#a8606e" stroke-width="0.25" transform="rotate(-90 304.8 338.5)" ><tspan>Half-peak width from </tspan><tspan dy="-4.03" font-size="7.21">17</tspan><tspan dy="4.03">O-NMR (Hz)</tspan></text>
<text x="527.6" y="320.8" font-size="11.5" text-anchor="middle" fill="#5f87b0" stroke="#5f87b0" stroke-width="0.25" transform="rotate(-90 527.6 320.8)" ><tspan>Conductivity (mS cm</tspan><tspan dy="-4.37" font-size="7.82">−1</tspan><tspan dy="4.37">)</tspan></text>
<text x="567.2" y="327" font-size="11.4" text-anchor="middle" fill="#d9a060" stroke="#d9a060" stroke-width="0.25" transform="rotate(-90 567.2 327)" ><tspan>Kinematic viscosity (mm</tspan><tspan dy="-4.33" font-size="7.75">2</tspan><tspan dy="4.33"> s</tspan><tspan dy="-4.33" font-size="7.75">−1</tspan><tspan dy="4.33">)</tspan></text>
<line x1="311.00" y1="424.00" x2="332.00" y2="424.00" stroke="#a23a4e" stroke-width="1.2" />
<path d="M321.5 419.8 L325.6 426.8 L317.4 426.8 Z" fill="#fff" stroke="#a23a4e" stroke-width="1.2"/>
<line x1="510.00" y1="424.00" x2="531.00" y2="424.00" stroke="#5c7ea6" stroke-width="1.2" stroke-dasharray="3 2"/>
<rect x="517.60" y="420.60" width="6.60" height="6.60" fill="#fff" stroke="#5c7ea6" stroke-width="1.2" />
<line x1="548.00" y1="424.00" x2="569.00" y2="424.00" stroke="#e3a866" stroke-width="1.2" stroke-dasharray="3 2"/>
<circle cx="558.50" cy="424.00" r="3.40" fill="#fff" stroke="#e3a866" stroke-width="1.2" />
<polyline points="367.00,273.00 398.50,290.00 430.00,360.40 461.50,382.40" fill="none" stroke="#4e6a8a" stroke-width="1.3" stroke-linejoin="round" />
<polyline points="367.00,399.00 398.50,392.00 430.00,291.60 461.50,271.00" fill="none" stroke="#e8a75e" stroke-width="1.3" stroke-linejoin="round" />
<polyline points="367.00,398.40 398.50,383.00 430.00,332.40 461.50,257.00" fill="none" stroke="#8a3a4e" stroke-width="1.3" stroke-linejoin="round" />
<rect x="364.00" y="270.00" width="6.00" height="6.00" fill="#f4f8fc" stroke="#3f7db5" stroke-width="1.3" />
<rect x="395.50" y="287.00" width="6.00" height="6.00" fill="#f4f8fc" stroke="#3f7db5" stroke-width="1.3" />
<rect x="427.00" y="357.40" width="6.00" height="6.00" fill="#f4f8fc" stroke="#3f7db5" stroke-width="1.3" />
<rect x="458.50" y="379.40" width="6.00" height="6.00" fill="#f4f8fc" stroke="#3f7db5" stroke-width="1.3" />
<circle cx="367.00" cy="399.00" r="3.50" fill="#fdf3e6" stroke="#e8a552" stroke-width="1.3" />
<circle cx="398.50" cy="392.00" r="3.50" fill="#fdf3e6" stroke="#e8a552" stroke-width="1.3" />
<circle cx="430.00" cy="291.60" r="3.50" fill="#fdf3e6" stroke="#e8a552" stroke-width="1.3" />
<circle cx="461.50" cy="271.00" r="3.50" fill="#fdf3e6" stroke="#e8a552" stroke-width="1.3" />
<path d="M367.00 394.40 L371.00 401.20 L363.00 401.20 Z" fill="#fbeaec" stroke="#86364a" stroke-width="1.4" stroke-linejoin="round"/>
<path d="M398.50 379.00 L402.50 385.80 L394.50 385.80 Z" fill="#fbeaec" stroke="#86364a" stroke-width="1.4" stroke-linejoin="round"/>
<path d="M430.00 328.40 L434.00 335.20 L426.00 335.20 Z" fill="#fbeaec" stroke="#86364a" stroke-width="1.4" stroke-linejoin="round"/>
<path d="M461.50 253.00 L465.50 259.80 L457.50 259.80 Z" fill="#fbeaec" stroke="#86364a" stroke-width="1.4" stroke-linejoin="round"/>
<text x="572.5" y="243" font-size="15.5" text-anchor="start" fill="#1a1a1a" font-weight="bold" >f</text>
<rect x="609.40" y="242.40" width="37.80" height="18.60" fill="#7b9fd3" stroke="none" stroke-width="1" />
<text x="628.3" y="255.10000000000002" font-size="9.4" text-anchor="middle" fill="#1f2f4a" stroke="#1f2f4a" stroke-width="0.25" >4.47</text>
<rect x="609.40" y="333.60" width="37.80" height="18.60" fill="#f9c98c" stroke="none" stroke-width="1" />
<text x="628.3" y="346.3" font-size="9.4" text-anchor="middle" fill="#6e4632" stroke="#6e4632" stroke-width="0.25" >49.39</text>
<rect x="649.00" y="242.40" width="37.80" height="18.60" fill="#3e6db9" stroke="none" stroke-width="1" />
<text x="667.9" y="255.10000000000002" font-size="9.4" text-anchor="middle" fill="#dce6f5" stroke="#dce6f5" stroke-width="0.25" >7.39</text>
<rect x="649.00" y="333.60" width="37.80" height="18.60" fill="#f5a74e" stroke="none" stroke-width="1" />
<text x="667.9" y="346.3" font-size="9.4" text-anchor="middle" fill="#6e4632" stroke="#6e4632" stroke-width="0.25" >69.00</text>
<rect x="688.50" y="242.40" width="37.80" height="18.60" fill="#dae6f4" stroke="none" stroke-width="1" />
<text x="707.4" y="255.10000000000002" font-size="9.4" text-anchor="middle" fill="#222" stroke="#222" stroke-width="0.25" >1.61</text>
<rect x="688.50" y="333.60" width="37.80" height="18.60" fill="#fce9d5" stroke="none" stroke-width="1" />
<text x="707.4" y="346.3" font-size="9.4" text-anchor="middle" fill="#4e4448" stroke="#4e4448" stroke-width="0.25" >35.25</text>
<rect x="728.30" y="242.40" width="37.80" height="18.60" fill="#edf3fa" stroke="none" stroke-width="1" />
<text x="747.1999999999999" y="255.10000000000002" font-size="9.4" text-anchor="middle" fill="#222" stroke="#222" stroke-width="0.25" >1.00</text>
<rect x="728.30" y="333.60" width="37.80" height="18.60" fill="#fffaf6" stroke="none" stroke-width="1" />
<text x="747.1999999999999" y="346.3" font-size="9.4" text-anchor="middle" fill="#4e4448" stroke="#4e4448" stroke-width="0.25" >15.51</text>
<rect x="609.40" y="262.20" width="37.80" height="18.60" fill="#7fa3d4" stroke="none" stroke-width="1" />
<text x="628.3" y="274.9" font-size="9.4" text-anchor="middle" fill="#1f2f4a" stroke="#1f2f4a" stroke-width="0.25" >4.04</text>
<rect x="609.40" y="353.30" width="37.80" height="18.60" fill="#f9c98c" stroke="none" stroke-width="1" />
<text x="628.3" y="366.0" font-size="9.4" text-anchor="middle" fill="#6e4632" stroke="#6e4632" stroke-width="0.25" >50.25</text>
<rect x="649.00" y="262.20" width="37.80" height="18.60" fill="#4673bc" stroke="none" stroke-width="1" />
<text x="667.9" y="274.9" font-size="9.4" text-anchor="middle" fill="#dce6f5" stroke="#dce6f5" stroke-width="0.25" >6.90</text>
<rect x="649.00" y="353.30" width="37.80" height="18.60" fill="#f4a44a" stroke="none" stroke-width="1" />
<text x="667.9" y="366.0" font-size="9.4" text-anchor="middle" fill="#6e4632" stroke="#6e4632" stroke-width="0.25" >70.49</text>
<rect x="688.50" y="262.20" width="37.80" height="18.60" fill="#b7cde9" stroke="none" stroke-width="1" />
<text x="707.4" y="274.9" font-size="9.4" text-anchor="middle" fill="#222" stroke="#222" stroke-width="0.25" >2.46</text>
<rect x="688.50" y="353.30" width="37.80" height="18.60" fill="#fbdfc2" stroke="none" stroke-width="1" />
<text x="707.4" y="366.0" font-size="9.4" text-anchor="middle" fill="#4e4448" stroke="#4e4448" stroke-width="0.25" >40.07</text>
<rect x="728.30" y="262.20" width="37.80" height="18.60" fill="#f1f6fb" stroke="none" stroke-width="1" />
<text x="747.1999999999999" y="274.9" font-size="9.4" text-anchor="middle" fill="#222" stroke="#222" stroke-width="0.25" >0.86</text>
<rect x="728.30" y="353.30" width="37.80" height="18.60" fill="#fffaf5" stroke="none" stroke-width="1" />
<text x="747.1999999999999" y="366.0" font-size="9.4" text-anchor="middle" fill="#4e4448" stroke="#4e4448" stroke-width="0.25" >18.10</text>
<rect x="609.40" y="282.00" width="37.80" height="18.60" fill="#e5eef8" stroke="none" stroke-width="1" />
<text x="628.3" y="294.7" font-size="9.4" text-anchor="middle" fill="#222" stroke="#222" stroke-width="0.25" >1.46</text>
<rect x="609.40" y="373.10" width="37.80" height="18.60" fill="#fefaf5" stroke="none" stroke-width="1" />
<text x="628.3" y="385.8" font-size="9.4" text-anchor="middle" fill="#4e4448" stroke="#4e4448" stroke-width="0.25" >22.72</text>
<rect x="649.00" y="282.00" width="37.80" height="18.60" fill="#9ab7de" stroke="none" stroke-width="1" />
<text x="667.9" y="294.7" font-size="9.4" text-anchor="middle" fill="#1f2f4a" stroke="#1f2f4a" stroke-width="0.25" >3.38</text>
<rect x="649.00" y="373.10" width="37.80" height="18.60" fill="#fef7f0" stroke="none" stroke-width="1" />
<text x="667.9" y="385.8" font-size="9.4" text-anchor="middle" fill="#4e4448" stroke="#4e4448" stroke-width="0.25" >31.31</text>
<rect x="688.50" y="282.00" width="37.80" height="18.60" fill="#f4f8fc" stroke="none" stroke-width="1" />
<text x="707.4" y="294.7" font-size="9.4" text-anchor="middle" fill="#222" stroke="#222" stroke-width="0.25" >0.89</text>
<rect x="688.50" y="373.10" width="37.80" height="18.60" fill="#fefaf6" stroke="none" stroke-width="1" />
<text x="707.4" y="385.8" font-size="9.4" text-anchor="middle" fill="#4e4448" stroke="#4e4448" stroke-width="0.25" >24.93</text>
<rect x="728.30" y="282.00" width="37.80" height="18.60" fill="#f7fafd" stroke="none" stroke-width="1" />
<text x="747.1999999999999" y="294.7" font-size="9.4" text-anchor="middle" fill="#222" stroke="#222" stroke-width="0.25" >0.65</text>
<rect x="728.30" y="373.10" width="37.80" height="18.60" fill="#fffcf9" stroke="none" stroke-width="1" />
<text x="747.1999999999999" y="385.8" font-size="9.4" text-anchor="middle" fill="#4e4448" stroke="#4e4448" stroke-width="0.25" >13.47</text>
<rect x="609.40" y="301.80" width="37.80" height="18.60" fill="#4c7bc2" stroke="none" stroke-width="1" />
<text x="628.3" y="314.5" font-size="9.4" text-anchor="middle" fill="#e8eef8" stroke="#e8eef8" stroke-width="0.25" >6.48</text>
<rect x="609.40" y="392.80" width="37.80" height="18.60" fill="#f6ab55" stroke="none" stroke-width="1" />
<text x="628.3" y="405.5" font-size="9.4" text-anchor="middle" fill="#6e4632" stroke="#6e4632" stroke-width="0.25" >66.22</text>
<rect x="649.00" y="301.80" width="37.80" height="18.60" fill="#1f4f9f" stroke="none" stroke-width="1" />
<text x="667.9" y="314.5" font-size="9.4" text-anchor="middle" fill="#f2f5fb" stroke="#f2f5fb" stroke-width="0.25" >12.61</text>
<rect x="649.00" y="392.80" width="37.80" height="18.60" fill="#ef8a22" stroke="none" stroke-width="1" />
<text x="667.9" y="405.5" font-size="9.4" text-anchor="middle" fill="#6e4632" stroke="#6e4632" stroke-width="0.25" >99.33</text>
<rect x="688.50" y="301.80" width="37.80" height="18.60" fill="#d3e2f3" stroke="none" stroke-width="1" />
<text x="707.4" y="314.5" font-size="9.4" text-anchor="middle" fill="#222" stroke="#222" stroke-width="0.25" >1.82</text>
<rect x="688.50" y="392.80" width="37.80" height="18.60" fill="#fef8f1" stroke="none" stroke-width="1" />
<text x="707.4" y="405.5" font-size="9.4" text-anchor="middle" fill="#4e4448" stroke="#4e4448" stroke-width="0.25" >28.31</text>
<rect x="728.30" y="301.80" width="37.80" height="18.60" fill="#f6f9fd" stroke="none" stroke-width="1" />
<text x="747.1999999999999" y="314.5" font-size="9.4" text-anchor="middle" fill="#222" stroke="#222" stroke-width="0.25" >0.67</text>
<rect x="728.30" y="392.80" width="37.80" height="18.60" fill="#fffcf9" stroke="none" stroke-width="1" />
<text x="747.1999999999999" y="405.5" font-size="9.4" text-anchor="middle" fill="#4e4448" stroke="#4e4448" stroke-width="0.25" >11.95</text>
<text x="606" y="255.70000000000002" font-size="11" text-anchor="end" fill="#333" stroke="#333" stroke-width="0.25" ><tspan>Cl</tspan><tspan dy="-4.18" font-size="7.48">−</tspan></text>
<text x="606" y="346.90000000000003" font-size="11" text-anchor="end" fill="#333" stroke="#333" stroke-width="0.25" ><tspan>Cl</tspan><tspan dy="-4.18" font-size="7.48">−</tspan></text>
<text x="606" y="275.5" font-size="11" text-anchor="end" fill="#333" stroke="#333" stroke-width="0.25" ><tspan>Br</tspan><tspan dy="-4.18" font-size="7.48">−</tspan></text>
<text x="606" y="366.6" font-size="11" text-anchor="end" fill="#333" stroke="#333" stroke-width="0.25" ><tspan>Br</tspan><tspan dy="-4.18" font-size="7.48">−</tspan></text>
<text x="606" y="295.3" font-size="11" text-anchor="end" fill="#333" stroke="#333" stroke-width="0.25" ><tspan>Zn</tspan><tspan dy="-4.18" font-size="7.48">2+</tspan></text>
<text x="606" y="386.40000000000003" font-size="11" text-anchor="end" fill="#333" stroke="#333" stroke-width="0.25" ><tspan>Zn</tspan><tspan dy="-4.18" font-size="7.48">2+</tspan></text>
<text x="606" y="315.1" font-size="11" text-anchor="end" fill="#333" stroke="#333" stroke-width="0.25" ><tspan>M</tspan><tspan dy="-4.18" font-size="7.48">+</tspan></text>
<text x="606" y="406.1" font-size="11" text-anchor="end" fill="#333" stroke="#333" stroke-width="0.25" ><tspan>M</tspan><tspan dy="-4.18" font-size="7.48">+</tspan></text>
<text x="581" y="278.4" font-size="11.2" text-anchor="middle" fill="#2e3f5c" stroke="#2e3f5c" stroke-width="0.25" transform="rotate(-90 581 278.4)" >253.15 K</text>
<text x="581" y="370.7" font-size="11.2" text-anchor="middle" fill="#7a2e3e" stroke="#7a2e3e" stroke-width="0.25" transform="rotate(-90 581 370.7)" >298.15 K</text>
<rect x="771.60" y="242.40" width="12.40" height="76.60" fill="url(#cbB)" stroke="#1e3a66" stroke-width="1.2" />
<rect x="771.60" y="333.60" width="12.40" height="77.40" fill="url(#cbO)" stroke="#6a4a50" stroke-width="1.3" />
<line x1="784.00" y1="242.40" x2="786.50" y2="242.40" stroke="#1e3a66" stroke-width="1.1" />
<text x="789.3" y="245.4" font-size="8.6" text-anchor="start" fill="#3a4250" stroke="#3a4250" stroke-width="0.25" >12.7</text>
<line x1="784.00" y1="333.60" x2="786.50" y2="333.60" stroke="#6a4a50" stroke-width="1.1" />
<text x="789.3" y="336.6" font-size="8.6" text-anchor="start" fill="#5a4c54" stroke="#5a4c54" stroke-width="0.25" >99.4</text>
<line x1="784.00" y1="253.34" x2="786.50" y2="253.34" stroke="#1e3a66" stroke-width="1.1" />
<text x="789.3" y="256.34285714285716" font-size="8.6" text-anchor="start" fill="#3a4250" stroke="#3a4250" stroke-width="0.25" >8.5</text>
<line x1="784.00" y1="344.66" x2="786.50" y2="344.66" stroke="#6a4a50" stroke-width="1.1" />
<text x="789.3" y="347.6571428571429" font-size="8.6" text-anchor="start" fill="#5a4c54" stroke="#5a4c54" stroke-width="0.25" >72.3</text>
<line x1="784.00" y1="264.29" x2="786.50" y2="264.29" stroke="#1e3a66" stroke-width="1.1" />
<text x="789.3" y="267.2857142857143" font-size="8.6" text-anchor="start" fill="#3a4250" stroke="#3a4250" stroke-width="0.25" >4.7</text>
<line x1="784.00" y1="355.71" x2="786.50" y2="355.71" stroke="#6a4a50" stroke-width="1.1" />
<text x="789.3" y="358.7142857142857" font-size="8.6" text-anchor="start" fill="#5a4c54" stroke="#5a4c54" stroke-width="0.25" >46.1</text>
<line x1="784.00" y1="275.23" x2="786.50" y2="275.23" stroke="#1e3a66" stroke-width="1.1" />
<text x="789.3" y="278.22857142857146" font-size="8.6" text-anchor="start" fill="#3a4250" stroke="#3a4250" stroke-width="0.25" >2.7</text>
<line x1="784.00" y1="366.77" x2="786.50" y2="366.77" stroke="#6a4a50" stroke-width="1.1" />
<text x="789.3" y="369.7714285714286" font-size="8.6" text-anchor="start" fill="#5a4c54" stroke="#5a4c54" stroke-width="0.25" >30.8</text>
<line x1="784.00" y1="286.17" x2="786.50" y2="286.17" stroke="#1e3a66" stroke-width="1.1" />
<text x="789.3" y="289.1714285714286" font-size="8.6" text-anchor="start" fill="#3a4250" stroke="#3a4250" stroke-width="0.25" >1.6</text>
<line x1="784.00" y1="377.83" x2="786.50" y2="377.83" stroke="#6a4a50" stroke-width="1.1" />
<text x="789.3" y="380.8285714285715" font-size="8.6" text-anchor="start" fill="#5a4c54" stroke="#5a4c54" stroke-width="0.25" >21.8</text>
<line x1="784.00" y1="297.11" x2="786.50" y2="297.11" stroke="#1e3a66" stroke-width="1.1" />
<text x="789.3" y="300.1142857142857" font-size="8.6" text-anchor="start" fill="#3a4250" stroke="#3a4250" stroke-width="0.25" >1.1</text>
<line x1="784.00" y1="388.89" x2="786.50" y2="388.89" stroke="#6a4a50" stroke-width="1.1" />
<text x="789.3" y="391.8857142857143" font-size="8.6" text-anchor="start" fill="#5a4c54" stroke="#5a4c54" stroke-width="0.25" >16.6</text>
<line x1="784.00" y1="308.06" x2="786.50" y2="308.06" stroke="#1e3a66" stroke-width="1.1" />
<text x="789.3" y="311.0571428571429" font-size="8.6" text-anchor="start" fill="#3a4250" stroke="#3a4250" stroke-width="0.25" >0.8</text>
<line x1="784.00" y1="399.94" x2="786.50" y2="399.94" stroke="#6a4a50" stroke-width="1.1" />
<text x="789.3" y="402.9428571428572" font-size="8.6" text-anchor="start" fill="#5a4c54" stroke="#5a4c54" stroke-width="0.25" >13.6</text>
<line x1="784.00" y1="319.00" x2="786.50" y2="319.00" stroke="#1e3a66" stroke-width="1.1" />
<text x="789.3" y="322.0" font-size="8.6" text-anchor="start" fill="#3a4250" stroke="#3a4250" stroke-width="0.25" >0.6</text>
<line x1="784.00" y1="411.00" x2="786.50" y2="411.00" stroke="#6a4a50" stroke-width="1.1" />
<text x="789.3" y="414.0" font-size="8.6" text-anchor="start" fill="#5a4c54" stroke="#5a4c54" stroke-width="0.25" >11.8</text>
<text x="628.3" y="426" font-size="11" text-anchor="middle" fill="#262626" stroke="#262626" stroke-width="0.25" >KCl</text>
<text x="667.9" y="426" font-size="11" text-anchor="middle" fill="#262626" stroke="#262626" stroke-width="0.25" ><tspan>NH</tspan><tspan dy="3.08" font-size="7.48">4</tspan><tspan dy="-3.08">Cl</tspan></text>
<text x="707.4" y="426" font-size="11" text-anchor="middle" fill="#262626" stroke="#262626" stroke-width="0.25" >NaCl</text>
<text x="747.1999999999999" y="426" font-size="11" text-anchor="middle" fill="#262626" stroke="#262626" stroke-width="0.25" >LiCl</text>
<text x="694.5" y="444" font-size="10.8" text-anchor="middle" fill="#262626" stroke="#262626" stroke-width="0.25" ><tspan>Self-diffusion coefficient (10</tspan><tspan dy="-4.10" font-size="7.34">−8</tspan><tspan dy="4.10"> cm</tspan><tspan dy="-4.10" font-size="7.34">2</tspan><tspan dy="4.10"> s</tspan><tspan dy="-4.10" font-size="7.34">−1</tspan><tspan dy="4.10">)</tspan></text>
<text x="29.8" y="474" font-size="16" text-anchor="start" fill="#1a1a1a" font-weight="bold" >g</text>
<rect x="67.40" y="463.00" width="208.60" height="167.60" fill="none" stroke="#2b2b2b" stroke-width="1.3" />
<line x1="64.00" y1="463.00" x2="67.40" y2="463.00" stroke="#2b2b2b" stroke-width="1.1" />
<text x="62" y="466.7" font-size="10.5" text-anchor="end" fill="#333333" stroke="#333333" stroke-width="0.25" >-40</text>
<line x1="64.00" y1="493.00" x2="67.40" y2="493.00" stroke="#2b2b2b" stroke-width="1.1" />
<text x="62" y="496.7" font-size="10.5" text-anchor="end" fill="#333333" stroke="#333333" stroke-width="0.25" >−35</text>
<line x1="64.00" y1="523.00" x2="67.40" y2="523.00" stroke="#2b2b2b" stroke-width="1.1" />
<text x="62" y="526.7" font-size="10.5" text-anchor="end" fill="#333333" stroke="#333333" stroke-width="0.25" >−30</text>
<line x1="64.00" y1="553.00" x2="67.40" y2="553.00" stroke="#2b2b2b" stroke-width="1.1" />
<text x="62" y="556.7" font-size="10.5" text-anchor="end" fill="#333333" stroke="#333333" stroke-width="0.25" >−25</text>
<line x1="64.00" y1="583.00" x2="67.40" y2="583.00" stroke="#2b2b2b" stroke-width="1.1" />
<text x="62" y="586.7" font-size="10.5" text-anchor="end" fill="#333333" stroke="#333333" stroke-width="0.25" >−20</text>
<line x1="64.00" y1="613.00" x2="67.40" y2="613.00" stroke="#2b2b2b" stroke-width="1.1" />
<text x="62" y="616.7" font-size="10.5" text-anchor="end" fill="#333333" stroke="#333333" stroke-width="0.25" >−15</text>
<line x1="65.40" y1="478.00" x2="67.40" y2="478.00" stroke="#2b2b2b" stroke-width="0.9" />
<line x1="65.40" y1="508.00" x2="67.40" y2="508.00" stroke="#2b2b2b" stroke-width="0.9" />
<line x1="65.40" y1="538.00" x2="67.40" y2="538.00" stroke="#2b2b2b" stroke-width="0.9" />
<line x1="65.40" y1="568.00" x2="67.40" y2="568.00" stroke="#2b2b2b" stroke-width="0.9" />
<line x1="65.40" y1="598.00" x2="67.40" y2="598.00" stroke="#2b2b2b" stroke-width="0.9" />
<line x1="65.40" y1="628.00" x2="67.40" y2="628.00" stroke="#2b2b2b" stroke-width="0.9" />
<line x1="87.00" y1="630.60" x2="87.00" y2="634.00" stroke="#2b2b2b" stroke-width="1.1" />
<text x="87.0" y="643.5" font-size="10.5" text-anchor="middle" fill="#333333" stroke="#333333" stroke-width="0.25" >0.20</text>
<line x1="125.00" y1="630.60" x2="125.00" y2="634.00" stroke="#2b2b2b" stroke-width="1.1" />
<text x="125.0" y="643.5" font-size="10.5" text-anchor="middle" fill="#333333" stroke="#333333" stroke-width="0.25" >0.25</text>
<line x1="163.00" y1="630.60" x2="163.00" y2="634.00" stroke="#2b2b2b" stroke-width="1.1" />
<text x="163.0" y="643.5" font-size="10.5" text-anchor="middle" fill="#333333" stroke="#333333" stroke-width="0.25" >0.30</text>
<line x1="201.00" y1="630.60" x2="201.00" y2="634.00" stroke="#2b2b2b" stroke-width="1.1" />
<text x="200.99999999999997" y="643.5" font-size="10.5" text-anchor="middle" fill="#333333" stroke="#333333" stroke-width="0.25" >0.35</text>
<line x1="239.00" y1="630.60" x2="239.00" y2="634.00" stroke="#2b2b2b" stroke-width="1.1" />
<text x="239.0" y="643.5" font-size="10.5" text-anchor="middle" fill="#333333" stroke="#333333" stroke-width="0.25" >0.40</text>
<line x1="277.00" y1="630.60" x2="277.00" y2="634.00" stroke="#2b2b2b" stroke-width="1.1" />
<text x="277.0" y="643.5" font-size="10.5" text-anchor="middle" fill="#333333" stroke="#333333" stroke-width="0.25" >0.45</text>
<line x1="106.00" y1="630.60" x2="106.00" y2="632.60" stroke="#2b2b2b" stroke-width="0.9" />
<line x1="144.00" y1="630.60" x2="144.00" y2="632.60" stroke="#2b2b2b" stroke-width="0.9" />
<line x1="182.00" y1="630.60" x2="182.00" y2="632.60" stroke="#2b2b2b" stroke-width="0.9" />
<line x1="220.00" y1="630.60" x2="220.00" y2="632.60" stroke="#2b2b2b" stroke-width="0.9" />
<line x1="258.00" y1="630.60" x2="258.00" y2="632.60" stroke="#2b2b2b" stroke-width="0.9" />
<text x="40.3" y="543.4" font-size="10.5" text-anchor="middle" fill="#333333" stroke="#333333" stroke-width="0.25" transform="rotate(-90 40.3 543.4)" >Current (mA)</text>
<text x="110.5" y="655" font-size="10.8" text-anchor="start" fill="#333333" stroke="#333333" stroke-width="0.25" ><tspan>(Scan Rate)</tspan><tspan dy="-4.10" font-size="7.34">1/2</tspan></text>
<text x="188.2" y="655" font-size="10.8" text-anchor="start" fill="#333333" stroke="#333333" stroke-width="0.25" ><tspan>(V s</tspan><tspan dy="-4.10" font-size="7.34">−1</tspan><tspan dy="4.10">)</tspan><tspan dy="-4.10" font-size="7.34">1/2</tspan></text>
<text x="71.6" y="478" font-size="10.5" text-anchor="start" fill="#333333" stroke="#333333" stroke-width="0.25" ><tspan>Zn</tspan><tspan dy="-3.99" font-size="7.14">2+</tspan><tspan dy="3.99"> <tspan font-size="7.6">⟶</tspan> Zn</tspan></text>
<text x="272" y="477" font-size="10.5" text-anchor="end" fill="#333333" stroke="#333333" stroke-width="0.25" ><tspan>D</tspan><tspan dy="2.94" font-size="7.14">Zn²⁺</tspan><tspan dy="-2.94"> / 10</tspan><tspan dy="-3.99" font-size="7.14">−7</tspan><tspan dy="3.99">cm</tspan><tspan dy="-3.99" font-size="7.14">2</tspan><tspan dy="3.99">s</tspan><tspan dy="-3.99" font-size="7.14">−1</tspan></text>
<line x1="87.00" y1="558.07" x2="197.96" y2="495.57" stroke="#4a7fb8" stroke-width="1.4" stroke-dasharray="3.2 2.2"/>
<circle cx="87.00" cy="558.00" r="2.80" fill="#fff" stroke="#4a7fb8" stroke-width="1.7" />
<circle cx="121.20" cy="539.00" r="2.80" fill="#fff" stroke="#4a7fb8" stroke-width="1.7" />
<circle cx="150.08" cy="522.40" r="2.80" fill="#fff" stroke="#4a7fb8" stroke-width="1.7" />
<circle cx="175.16" cy="508.40" r="2.80" fill="#fff" stroke="#4a7fb8" stroke-width="1.7" />
<circle cx="197.96" cy="495.60" r="2.80" fill="#fff" stroke="#4a7fb8" stroke-width="1.7" />
<text x="210" y="499" font-size="10.5" text-anchor="start" fill="#4a7ab0" stroke="#4a7ab0" stroke-width="0.25" ><tspan>NH</tspan><tspan dy="2.94" font-size="7.14">4</tspan><tspan dy="-2.94">Cl</tspan></text>
<text x="272" y="499" font-size="10.5" text-anchor="end" fill="#4a7ab0" stroke="#4a7ab0" stroke-width="0.25" >4.42</text>
<line x1="87.00" y1="567.82" x2="197.96" y2="514.02" stroke="#e5a25c" stroke-width="1.4" stroke-dasharray="3.2 2.2"/>
<circle cx="87.00" cy="568.00" r="2.80" fill="#fff" stroke="#e5a25c" stroke-width="1.7" />
<circle cx="121.20" cy="551.40" r="2.80" fill="#fff" stroke="#e5a25c" stroke-width="1.7" />
<circle cx="150.08" cy="536.60" r="2.80" fill="#fff" stroke="#e5a25c" stroke-width="1.7" />
<circle cx="175.16" cy="525.00" r="2.80" fill="#fff" stroke="#e5a25c" stroke-width="1.7" />
<circle cx="197.96" cy="514.40" r="2.80" fill="#fff" stroke="#e5a25c" stroke-width="1.7" />
<text x="210" y="518.5" font-size="10.5" text-anchor="start" fill="#d9a060" stroke="#d9a060" stroke-width="0.25" >KCl</text>
<text x="272" y="518.5" font-size="10.5" text-anchor="end" fill="#d9a060" stroke="#d9a060" stroke-width="0.25" >3.28</text>
<line x1="87.00" y1="602.83" x2="197.96" y2="554.26" stroke="#b24a62" stroke-width="1.4" stroke-dasharray="3.2 2.2"/>
<circle cx="87.00" cy="603.00" r="2.80" fill="#fff" stroke="#b24a62" stroke-width="1.7" />
<circle cx="121.20" cy="587.40" r="2.80" fill="#fff" stroke="#b24a62" stroke-width="1.7" />
<circle cx="150.08" cy="575.00" r="2.80" fill="#fff" stroke="#b24a62" stroke-width="1.7" />
<circle cx="175.16" cy="565.40" r="2.80" fill="#fff" stroke="#b24a62" stroke-width="1.7" />
<circle cx="197.96" cy="553.60" r="2.80" fill="#fff" stroke="#b24a62" stroke-width="1.7" />
<text x="210" y="554.5" font-size="10.5" text-anchor="start" fill="#b04a60" stroke="#b04a60" stroke-width="0.25" >NaCl</text>
<text x="272" y="554.5" font-size="10.5" text-anchor="end" fill="#b04a60" stroke="#b04a60" stroke-width="0.25" >2.57</text>
<line x1="87.00" y1="606.04" x2="197.96" y2="563.74" stroke="#3a8a70" stroke-width="1.4" stroke-dasharray="3.2 2.2"/>
<circle cx="87.00" cy="606.00" r="2.80" fill="#fff" stroke="#3a8a70" stroke-width="1.7" />
<circle cx="121.20" cy="593.00" r="2.80" fill="#fff" stroke="#3a8a70" stroke-width="1.7" />
<circle cx="150.08" cy="582.00" r="2.80" fill="#fff" stroke="#3a8a70" stroke-width="1.7" />
<circle cx="175.16" cy="572.60" r="2.80" fill="#fff" stroke="#3a8a70" stroke-width="1.7" />
<circle cx="197.96" cy="563.60" r="2.80" fill="#fff" stroke="#3a8a70" stroke-width="1.7" />
<text x="210" y="568" font-size="10.5" text-anchor="start" fill="#3a8a70" stroke="#3a8a70" stroke-width="0.25" >LiCl</text>
<text x="272" y="568" font-size="10.5" text-anchor="end" fill="#3a8a70" stroke="#3a8a70" stroke-width="0.25" >2.00</text>
<text x="296.5" y="474" font-size="16" text-anchor="start" fill="#1a1a1a" font-weight="bold" >h</text>
<rect x="335.00" y="463.40" width="208.60" height="167.60" fill="none" stroke="#2b2b2b" stroke-width="1.3" />
<line x1="331.60" y1="484.00" x2="335.00" y2="484.00" stroke="#2b2b2b" stroke-width="1.1" />
<text x="329.5" y="487.7" font-size="10.5" text-anchor="end" fill="#333333" stroke="#333333" stroke-width="0.25" >−0.7</text>
<line x1="331.60" y1="526.00" x2="335.00" y2="526.00" stroke="#2b2b2b" stroke-width="1.1" />
<text x="329.5" y="529.7" font-size="10.5" text-anchor="end" fill="#333333" stroke="#333333" stroke-width="0.25" >−0.6</text>
<line x1="331.60" y1="568.00" x2="335.00" y2="568.00" stroke="#2b2b2b" stroke-width="1.1" />
<text x="329.5" y="571.7" font-size="10.5" text-anchor="end" fill="#333333" stroke="#333333" stroke-width="0.25" >−0.5</text>
<line x1="331.60" y1="610.00" x2="335.00" y2="610.00" stroke="#2b2b2b" stroke-width="1.1" />
<text x="329.5" y="613.7" font-size="10.5" text-anchor="end" fill="#333333" stroke="#333333" stroke-width="0.25" >−0.4</text>
<line x1="333.00" y1="505.00" x2="335.00" y2="505.00" stroke="#2b2b2b" stroke-width="0.9" />
<line x1="333.00" y1="547.00" x2="335.00" y2="547.00" stroke="#2b2b2b" stroke-width="0.9" />
<line x1="333.00" y1="589.00" x2="335.00" y2="589.00" stroke="#2b2b2b" stroke-width="0.9" />
<line x1="333.00" y1="631.00" x2="335.00" y2="631.00" stroke="#2b2b2b" stroke-width="0.9" />
<line x1="353.00" y1="631.00" x2="353.00" y2="634.40" stroke="#2b2b2b" stroke-width="1.1" />
<text x="353.0" y="643.5" font-size="10.5" text-anchor="middle" fill="#333333" stroke="#333333" stroke-width="0.25" >0.20</text>
<line x1="388.00" y1="631.00" x2="388.00" y2="634.40" stroke="#2b2b2b" stroke-width="1.1" />
<text x="388.0" y="643.5" font-size="10.5" text-anchor="middle" fill="#333333" stroke="#333333" stroke-width="0.25" >0.25</text>
<line x1="423.00" y1="631.00" x2="423.00" y2="634.40" stroke="#2b2b2b" stroke-width="1.1" />
<text x="423.0" y="643.5" font-size="10.5" text-anchor="middle" fill="#333333" stroke="#333333" stroke-width="0.25" >0.30</text>
<line x1="458.00" y1="631.00" x2="458.00" y2="634.40" stroke="#2b2b2b" stroke-width="1.1" />
<text x="458.0" y="643.5" font-size="10.5" text-anchor="middle" fill="#333333" stroke="#333333" stroke-width="0.25" >0.35</text>
<line x1="493.00" y1="631.00" x2="493.00" y2="634.40" stroke="#2b2b2b" stroke-width="1.1" />
<text x="493.0" y="643.5" font-size="10.5" text-anchor="middle" fill="#333333" stroke="#333333" stroke-width="0.25" >0.40</text>
<line x1="528.00" y1="631.00" x2="528.00" y2="634.40" stroke="#2b2b2b" stroke-width="1.1" />
<text x="528.0" y="643.5" font-size="10.5" text-anchor="middle" fill="#333333" stroke="#333333" stroke-width="0.25" >0.45</text>
<line x1="370.50" y1="631.00" x2="370.50" y2="633.00" stroke="#2b2b2b" stroke-width="0.9" />
<line x1="405.50" y1="631.00" x2="405.50" y2="633.00" stroke="#2b2b2b" stroke-width="0.9" />
<line x1="440.50" y1="631.00" x2="440.50" y2="633.00" stroke="#2b2b2b" stroke-width="0.9" />
<line x1="475.50" y1="631.00" x2="475.50" y2="633.00" stroke="#2b2b2b" stroke-width="0.9" />
<line x1="510.50" y1="631.00" x2="510.50" y2="633.00" stroke="#2b2b2b" stroke-width="0.9" />
<text x="304.7" y="540.2" font-size="10.6" text-anchor="middle" fill="#333333" stroke="#333333" stroke-width="0.25" transform="rotate(-90 304.7 540.2)" >Current&#160;&#160;&#160;(mA)</text>
<text x="439.6" y="654.5" font-size="11" text-anchor="middle" fill="#333333" stroke="#333333" stroke-width="0.25" ><tspan>(Scan Rate)</tspan><tspan dy="-4.18" font-size="7.48">(1/2)</tspan><tspan dy="4.18"> (V s</tspan><tspan dy="-4.18" font-size="7.48">−1</tspan><tspan dy="4.18">)</tspan><tspan dy="-4.18" font-size="7.48">(1/2)</tspan></text>
<text x="343" y="480" font-size="10.5" text-anchor="start" fill="#333333" stroke="#333333" stroke-width="0.25" ><tspan>Br</tspan><tspan dy="2.94" font-size="7.14">2</tspan><tspan dy="-2.94"> <tspan font-size="7.6">⟶</tspan> 2Br</tspan><tspan dy="-3.99" font-size="7.14">−</tspan></text>
<text x="539" y="479" font-size="10.5" text-anchor="end" fill="#333333" stroke="#333333" stroke-width="0.25" ><tspan>D</tspan><tspan dy="2.94" font-size="7.14">Br₂</tspan><tspan dy="-2.94"> / 10</tspan><tspan dy="-3.99" font-size="7.14">−6</tspan><tspan dy="3.99"> cm</tspan><tspan dy="-3.99" font-size="7.14">2</tspan><tspan dy="3.99">s</tspan><tspan dy="-3.99" font-size="7.14">−1</tspan></text>
<line x1="353.00" y1="596.58" x2="455.20" y2="492.69" stroke="#e5a25c" stroke-width="1.4" stroke-dasharray="3.2 2.2"/>
<line x1="353.00" y1="615.27" x2="455.20" y2="501.64" stroke="#4a7fb8" stroke-width="1.4" stroke-dasharray="3.2 2.2"/>
<line x1="353.00" y1="617.66" x2="455.20" y2="519.32" stroke="#b24a62" stroke-width="1.4" stroke-dasharray="3.2 2.2"/>
<line x1="353.00" y1="620.14" x2="455.20" y2="524.72" stroke="#3a8a70" stroke-width="1.4" stroke-dasharray="3.2 2.2"/>
<circle cx="353.00" cy="594.60" r="2.80" fill="#fff" stroke="#e5a25c" stroke-width="1.7" />
<circle cx="384.50" cy="564.40" r="2.80" fill="#fff" stroke="#e5a25c" stroke-width="1.7" />
<circle cx="411.10" cy="542.20" r="2.80" fill="#fff" stroke="#e5a25c" stroke-width="1.7" />
<circle cx="434.20" cy="514.40" r="2.80" fill="#fff" stroke="#e5a25c" stroke-width="1.7" />
<circle cx="455.20" cy="489.80" r="2.80" fill="#fff" stroke="#e5a25c" stroke-width="1.7" />
<text x="471.6" y="514" font-size="10.5" text-anchor="start" fill="#d9a060" stroke="#d9a060" stroke-width="0.25" >KCl</text>
<text x="533.5" y="514" font-size="10.5" text-anchor="end" fill="#d9a060" stroke="#d9a060" stroke-width="0.25" >1.59</text>
<circle cx="353.00" cy="610.60" r="2.80" fill="#fff" stroke="#4a7fb8" stroke-width="1.7" />
<circle cx="384.50" cy="586.60" r="2.80" fill="#fff" stroke="#4a7fb8" stroke-width="1.7" />
<circle cx="411.10" cy="551.00" r="2.80" fill="#fff" stroke="#4a7fb8" stroke-width="1.7" />
<circle cx="434.20" cy="525.60" r="2.80" fill="#fff" stroke="#4a7fb8" stroke-width="1.7" />
<circle cx="455.20" cy="499.00" r="2.80" fill="#fff" stroke="#4a7fb8" stroke-width="1.7" />
<text x="471.6" y="499.5" font-size="10.5" text-anchor="start" fill="#4a7ab0" stroke="#4a7ab0" stroke-width="0.25" ><tspan>NH</tspan><tspan dy="2.94" font-size="7.14">4</tspan><tspan dy="-2.94">Cl</tspan></text>
<text x="533.5" y="499.5" font-size="10.5" text-anchor="end" fill="#4a7ab0" stroke="#4a7ab0" stroke-width="0.25" >1.90</text>
<circle cx="353.00" cy="616.00" r="2.80" fill="#fff" stroke="#b24a62" stroke-width="1.7" />
<circle cx="384.50" cy="589.00" r="2.80" fill="#fff" stroke="#b24a62" stroke-width="1.7" />
<circle cx="411.10" cy="563.20" r="2.80" fill="#fff" stroke="#b24a62" stroke-width="1.7" />
<circle cx="434.20" cy="539.00" r="2.80" fill="#fff" stroke="#b24a62" stroke-width="1.7" />
<circle cx="455.20" cy="518.40" r="2.80" fill="#fff" stroke="#b24a62" stroke-width="1.7" />
<text x="471.6" y="527.8" font-size="10.5" text-anchor="start" fill="#b04a60" stroke="#b04a60" stroke-width="0.25" >NaCl</text>
<text x="533.5" y="527.8" font-size="10.5" text-anchor="end" fill="#b04a60" stroke="#b04a60" stroke-width="0.25" >1.39</text>
<circle cx="353.00" cy="619.40" r="2.80" fill="#fff" stroke="#3a8a70" stroke-width="1.7" />
<circle cx="384.50" cy="592.00" r="2.80" fill="#fff" stroke="#3a8a70" stroke-width="1.7" />
<circle cx="411.10" cy="566.00" r="2.80" fill="#fff" stroke="#3a8a70" stroke-width="1.7" />
<circle cx="434.20" cy="543.40" r="2.80" fill="#fff" stroke="#3a8a70" stroke-width="1.7" />
<circle cx="455.20" cy="525.00" r="2.80" fill="#fff" stroke="#3a8a70" stroke-width="1.7" />
<text x="471.6" y="541.8" font-size="10.5" text-anchor="start" fill="#3a8a70" stroke="#3a8a70" stroke-width="0.25" >LiCl</text>
<text x="533.5" y="541.8" font-size="10.5" text-anchor="end" fill="#3a8a70" stroke="#3a8a70" stroke-width="0.25" >1.34</text>
<text x="560.8" y="474" font-size="16" text-anchor="start" fill="#1a1a1a" font-weight="bold" >i</text>
<rect x="597.20" y="463.00" width="209.40" height="168.00" fill="none" stroke="#2b2b2b" stroke-width="1.3" />
<line x1="593.80" y1="631.00" x2="597.20" y2="631.00" stroke="#2b2b2b" stroke-width="1.1" />
<text x="592" y="634.7" font-size="10.5" text-anchor="end" fill="#333333" stroke="#333333" stroke-width="0.25" >0.0</text>
<line x1="593.80" y1="597.40" x2="597.20" y2="597.40" stroke="#2b2b2b" stroke-width="1.1" />
<text x="592" y="601.1" font-size="10.5" text-anchor="end" fill="#333333" stroke="#333333" stroke-width="0.25" >0.2</text>
<line x1="593.80" y1="563.80" x2="597.20" y2="563.80" stroke="#2b2b2b" stroke-width="1.1" />
<text x="592" y="567.5" font-size="10.5" text-anchor="end" fill="#333333" stroke="#333333" stroke-width="0.25" >0.4</text>
<line x1="593.80" y1="530.20" x2="597.20" y2="530.20" stroke="#2b2b2b" stroke-width="1.1" />
<text x="592" y="533.9000000000001" font-size="10.5" text-anchor="end" fill="#333333" stroke="#333333" stroke-width="0.25" >0.6</text>
<line x1="593.80" y1="496.60" x2="597.20" y2="496.60" stroke="#2b2b2b" stroke-width="1.1" />
<text x="592" y="500.3" font-size="10.5" text-anchor="end" fill="#333333" stroke="#333333" stroke-width="0.25" >0.8</text>
<line x1="593.80" y1="463.00" x2="597.20" y2="463.00" stroke="#2b2b2b" stroke-width="1.1" />
<text x="592" y="466.7" font-size="10.5" text-anchor="end" fill="#333333" stroke="#333333" stroke-width="0.25" >1.0</text>
<line x1="595.20" y1="614.20" x2="597.20" y2="614.20" stroke="#2b2b2b" stroke-width="0.9" />
<line x1="595.20" y1="580.60" x2="597.20" y2="580.60" stroke="#2b2b2b" stroke-width="0.9" />
<line x1="595.20" y1="547.00" x2="597.20" y2="547.00" stroke="#2b2b2b" stroke-width="0.9" />
<line x1="595.20" y1="513.40" x2="597.20" y2="513.40" stroke="#2b2b2b" stroke-width="0.9" />
<line x1="595.20" y1="479.80" x2="597.20" y2="479.80" stroke="#2b2b2b" stroke-width="0.9" />
<text x="566.6" y="557.4" font-size="11" text-anchor="middle" fill="#333333" stroke="#333333" stroke-width="0.25" transform="rotate(-90 566.6 557.4)" >Cation transference number</text>
<rect x="608.00" y="469.40" width="15.00" height="8.60" fill="#e4e4e4" stroke="#333" stroke-width="1.2" />
<text x="629" y="477.5" font-size="11.2" text-anchor="start" fill="#333333" stroke="#333333" stroke-width="0.25" >MCl</text>
<rect x="608.00" y="488.00" width="15.00" height="8.60" fill="#555" stroke="#1a1a1a" stroke-width="1.2" />
<text x="629" y="496" font-size="11" text-anchor="start" fill="#333333" stroke="#333333" stroke-width="0.25" >MBr</text>
<rect x="606.60" y="547.00" width="16.60" height="84.00" fill="#fcdcbd" stroke="#e7a56c" stroke-width="1.0" />
<rect x="623.80" y="545.15" width="16.60" height="85.85" fill="#f29136" stroke="#e7a56c" stroke-width="1.0" />
<line x1="609.60" y1="548.00" x2="620.20" y2="548.00" stroke="#111" stroke-width="2.2" />
<line x1="626.80" y1="546.15" x2="637.40" y2="546.15" stroke="#111" stroke-width="2.2" />
<text x="618.5" y="550.0" font-size="11" text-anchor="end" fill="#d9a060" stroke="#d9a060" stroke-width="0.25" transform="rotate(-90 618.5 550.0)" >0.500</text>
<text x="635.7" y="548.152" font-size="11" text-anchor="end" fill="#fdf0e6" stroke="#fdf0e6" stroke-width="0.25" transform="rotate(-90 635.7 548.152)" >0.511</text>
<text x="623.5" y="646" font-size="10" text-anchor="middle" fill="#e07a30" stroke="#e07a30" stroke-width="0.25" ><tspan>K</tspan><tspan dy="-3.80" font-size="6.80">+</tspan></text>
<rect x="658.60" y="545.99" width="16.60" height="85.01" fill="#bcd3f0" stroke="#4a78b0" stroke-width="1.0" />
<rect x="675.80" y="543.47" width="16.60" height="87.53" fill="#3d7cc9" stroke="#4a78b0" stroke-width="1.0" />
<line x1="661.60" y1="546.99" x2="672.20" y2="546.99" stroke="#111" stroke-width="2.2" />
<line x1="678.80" y1="544.47" x2="689.40" y2="544.47" stroke="#111" stroke-width="2.2" />
<text x="670.5" y="548.992" font-size="11" text-anchor="end" fill="#4a6a9a" stroke="#4a6a9a" stroke-width="0.25" transform="rotate(-90 670.5 548.992)" >0.506</text>
<text x="687.7" y="546.472" font-size="11" text-anchor="end" fill="#fdf0e6" stroke="#fdf0e6" stroke-width="0.25" transform="rotate(-90 687.7 546.472)" >0.521</text>
<text x="675.5" y="646" font-size="10" text-anchor="middle" fill="#4a78b0" stroke="#4a78b0" stroke-width="0.25" ><tspan>NH</tspan><tspan dy="2.80" font-size="6.80">4</tspan><tspan dy="-6.60" font-size="6.80">+</tspan></text>
<rect x="711.00" y="557.58" width="16.60" height="73.42" fill="#f4bcc3" stroke="#c0505e" stroke-width="1.0" />
<rect x="728.20" y="555.23" width="16.60" height="75.77" fill="#cc4754" stroke="#c0505e" stroke-width="1.0" />
<line x1="714.00" y1="558.58" x2="724.60" y2="558.58" stroke="#111" stroke-width="2.2" />
<line x1="731.20" y1="556.23" x2="741.80" y2="556.23" stroke="#111" stroke-width="2.2" />
<text x="722.9" y="560.5840000000001" font-size="11" text-anchor="end" fill="#b05060" stroke="#b05060" stroke-width="0.25" transform="rotate(-90 722.9 560.5840000000001)" >0.437</text>
<text x="740.1" y="558.232" font-size="11" text-anchor="end" fill="#fdf0e6" stroke="#fdf0e6" stroke-width="0.25" transform="rotate(-90 740.1 558.232)" >0.451</text>
<text x="727.9" y="646" font-size="10" text-anchor="middle" fill="#c04a5a" stroke="#c04a5a" stroke-width="0.25" ><tspan>Na</tspan><tspan dy="-3.80" font-size="6.80">+</tspan></text>
<rect x="763.40" y="563.97" width="16.60" height="67.03" fill="#bfe2d6" stroke="#3a8a70" stroke-width="1.0" />
<rect x="780.60" y="565.14" width="16.60" height="65.86" fill="#2e8a72" stroke="#3a8a70" stroke-width="1.0" />
<line x1="766.40" y1="564.97" x2="777.00" y2="564.97" stroke="#111" stroke-width="2.2" />
<line x1="783.60" y1="566.14" x2="794.20" y2="566.14" stroke="#111" stroke-width="2.2" />
<text x="775.3" y="566.968" font-size="11" text-anchor="end" fill="#3a7a68" stroke="#3a7a68" stroke-width="0.25" transform="rotate(-90 775.3 566.968)" >0.399</text>
<text x="792.5" y="568.144" font-size="11" text-anchor="end" fill="#fdf0e6" stroke="#fdf0e6" stroke-width="0.25" transform="rotate(-90 792.5 568.144)" >0.392</text>
<text x="780.3" y="646" font-size="10" text-anchor="middle" fill="#3a8a70" stroke="#3a8a70" stroke-width="0.25" ><tspan>Li</tspan><tspan dy="-3.80" font-size="6.80">+</tspan></text>
<rect x="706.30" y="509.30" width="21.20" height="16.70" fill="#dde6ee" stroke="#2e2e2e" stroke-width="1.2" />
<rect x="740.60" y="509.30" width="21.50" height="16.70" fill="#c6d6e3" stroke="#2e2e2e" stroke-width="1.2" />
<path d="M722.8 508 L722.8 513.5 Q722.8 518 727.5 518 L731 518" fill="none" stroke="#2e2e2e" stroke-width="4"/>
<path d="M722.8 508 L722.8 513.5 Q722.8 518 727.5 518 L731 518" fill="none" stroke="#f4f4f4" stroke-width="1.6"/>
<path d="M745.3 508 L745.3 513.5 Q745.3 518 740.6 518 L737 518" fill="none" stroke="#2e2e2e" stroke-width="4"/>
<path d="M745.3 508 L745.3 513.5 Q745.3 518 740.6 518 L737 518" fill="none" stroke="#f4f4f4" stroke-width="1.6"/>
<rect x="727.6" y="514.2" width="5" height="7.4" rx="1.5" fill="#2e2e2e"/>
<rect x="734.6" y="514.2" width="5" height="7.4" rx="1.5" fill="#2e2e2e"/>
<rect x="731.50" y="515.30" width="4.20" height="5.20" fill="#d8d8d8" stroke="#2e2e2e" stroke-width="1.0" />
<line x1="733.60" y1="521.60" x2="733.60" y2="525.50" stroke="#555" stroke-width="0.8" />
<rect x="711.8" y="508" width="3.6" height="15.5" rx="1.8" fill="#f4f4f4" stroke="#2e2e2e" stroke-width="1.1"/>
<rect x="752.9" y="508" width="3.6" height="15.5" rx="1.8" fill="#f4f4f4" stroke="#2e2e2e" stroke-width="1.1"/>
<rect x="704.40" y="505.10" width="25.20" height="4.20" fill="#ffffff" stroke="#2e2e2e" stroke-width="1.2" />
<rect x="738.50" y="505.10" width="25.70" height="4.20" fill="#ffffff" stroke="#2e2e2e" stroke-width="1.2" />
<rect x="711.80" y="491.00" width="3.60" height="14.10" fill="#f8f8f8" stroke="#2e2e2e" stroke-width="1.0" />
<rect x="720.90" y="489.00" width="3.80" height="16.10" fill="#f8f8f8" stroke="#2e2e2e" stroke-width="1.0" />
<rect x="743.40" y="489.00" width="3.80" height="16.10" fill="#f8f8f8" stroke="#2e2e2e" stroke-width="1.0" />
<rect x="752.90" y="491.50" width="3.60" height="13.60" fill="#f8f8f8" stroke="#2e2e2e" stroke-width="1.0" />
<line x1="707.00" y1="481.50" x2="714.50" y2="490.00" stroke="#444" stroke-width="0.9" />
<line x1="755.80" y1="482.60" x2="746.40" y2="489.40" stroke="#444" stroke-width="0.9" />
<text x="669" y="480" font-size="9.3" text-anchor="start" fill="#333333" stroke="#333333" stroke-width="0.25" >Pt sheet</text>
<text x="731" y="480" font-size="9.2" text-anchor="start" fill="#333333" stroke="#333333" stroke-width="0.25" >Reference</text>
<text x="702" y="518.5" font-size="9.5" text-anchor="end" fill="#333333" stroke="#333333" stroke-width="0.25" >0.2 M MX</text>
<text x="766.5" y="518.5" font-size="9.3" text-anchor="start" fill="#333333" stroke="#333333" stroke-width="0.25" >2 M MX</text>
<text x="735.5" y="535.5" font-size="9.2" text-anchor="middle" fill="#333333" stroke="#333333" stroke-width="0.25" >Seperator</text>
<g fill="#9c9c9c" fill-opacity="0.55"><ellipse cx="458.2" cy="631.6" rx="10.6" ry="9.8"/><path d="M452 639 L449.5 644 L456 640.5 Z"/></g>
<ellipse cx="470.6" cy="639" rx="7.8" ry="7" fill="#a8a8a8" fill-opacity="0.6" stroke="#ffffff" stroke-opacity="0.7" stroke-width="1.2"/>
<circle cx="454.50" cy="628.50" r="1.30" fill="#ffffff" stroke="none" stroke-width="1" fill-opacity="0.8"/>
<circle cx="461.50" cy="628.50" r="1.30" fill="#ffffff" stroke="none" stroke-width="1" fill-opacity="0.8"/>
<circle cx="468.00" cy="637.50" r="1.00" fill="#ffffff" stroke="none" stroke-width="1" fill-opacity="0.8"/>
<circle cx="473.00" cy="637.50" r="1.00" fill="#ffffff" stroke="none" stroke-width="1" fill-opacity="0.8"/>
<text x="484" y="642.5" font-size="22" font-weight="300" fill="#a8a8a8" fill-opacity="0.8" font-family="'Liberation Sans', 'Noto Sans CJK SC', sans-serif">公众号</text>
<circle cx="563.00" cy="636.00" r="1.60" fill="#a0a0a0" stroke="none" stroke-width="1" />
<text x="575" y="642.5" font-size="22.95" font-weight="300" fill="#8c8c8c" fill-opacity="0.8" font-family="'Liberation Sans', 'Noto Sans CJK SC', sans-serif">武汉之升新能源订阅号</text>
</svg></body></html>
